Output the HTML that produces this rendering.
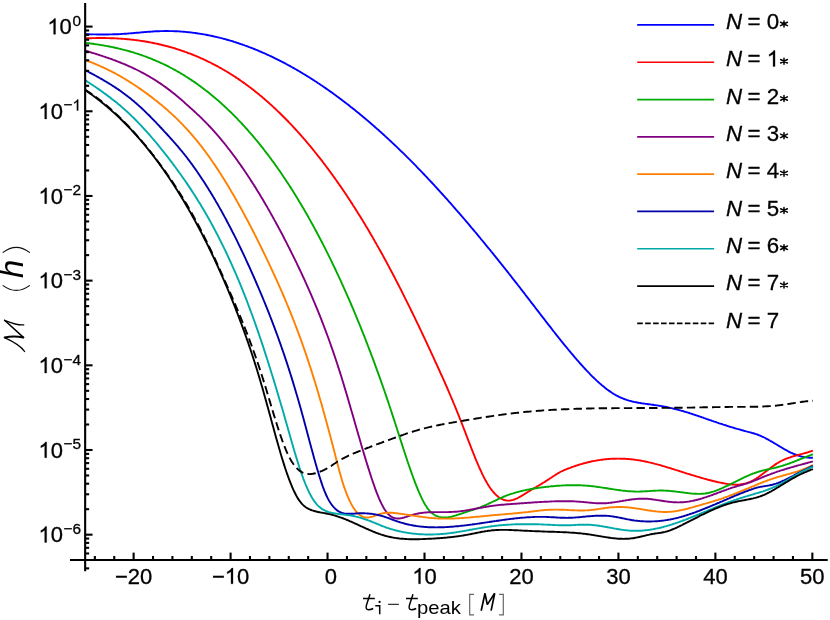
<!DOCTYPE html>
<html><head><meta charset="utf-8"><title>Mismatch vs start time</title>
<style>html,body{margin:0;padding:0;background:#fff;}body{width:830px;height:620px;overflow:hidden;font-family:"Liberation Sans",sans-serif;}svg{display:block;will-change:transform;}</style>
</head><body>
<svg width="830" height="620" viewBox="0 0 830 620">
<rect width="830" height="620" fill="#fff"/>
<g fill="none" stroke-linejoin="round" stroke-linecap="butt">
<path d="M85.2,34.3 L86.2,34.3 L87.2,34.3 L88.2,34.3 L89.2,34.3 L90.2,34.4 L91.2,34.4 L92.2,34.4 L93.2,34.4 L94.2,34.4 L95.2,34.4 L96.2,34.4 L97.2,34.5 L98.2,34.5 L99.2,34.5 L100.2,34.5 L101.2,34.5 L102.2,34.5 L103.2,34.5 L104.2,34.5 L105.2,34.5 L106.2,34.5 L107.2,34.5 L108.2,34.5 L109.2,34.4 L110.2,34.4 L111.2,34.4 L112.2,34.4 L113.2,34.3 L114.2,34.3 L115.2,34.3 L116.2,34.3 L117.2,34.2 L118.2,34.2 L119.2,34.1 L120.2,34.1 L121.2,34.0 L122.2,33.9 L123.2,33.9 L124.2,33.8 L125.2,33.7 L126.2,33.7 L127.2,33.6 L128.2,33.5 L129.2,33.4 L130.2,33.4 L131.2,33.3 L132.2,33.2 L133.2,33.1 L134.2,33.0 L135.2,32.9 L136.2,32.8 L137.2,32.7 L138.2,32.7 L139.2,32.6 L140.2,32.5 L141.2,32.4 L142.2,32.3 L143.2,32.2 L144.2,32.1 L145.2,32.0 L146.2,32.0 L147.2,31.9 L148.2,31.8 L149.2,31.7 L150.2,31.7 L151.2,31.6 L152.2,31.5 L153.2,31.5 L154.2,31.4 L155.2,31.3 L156.2,31.3 L157.2,31.2 L158.2,31.2 L159.2,31.2 L160.2,31.1 L161.2,31.1 L162.2,31.1 L163.2,31.1 L164.2,31.0 L165.2,31.0 L166.2,31.0 L167.2,31.0 L168.2,31.0 L169.2,31.1 L170.2,31.1 L171.2,31.1 L172.2,31.1 L173.2,31.1 L174.2,31.2 L175.2,31.2 L176.2,31.3 L177.2,31.3 L178.2,31.4 L179.2,31.4 L180.2,31.5 L181.2,31.6 L182.2,31.6 L183.2,31.7 L184.2,31.8 L185.2,31.9 L186.2,32.0 L187.2,32.1 L188.2,32.2 L189.2,32.3 L190.2,32.4 L191.2,32.5 L192.2,32.6 L193.2,32.8 L194.2,32.9 L195.2,33.0 L196.2,33.2 L197.2,33.3 L198.2,33.5 L199.2,33.6 L200.2,33.8 L201.2,33.9 L202.2,34.1 L203.2,34.3 L204.2,34.4 L205.2,34.6 L206.2,34.8 L207.2,35.0 L208.2,35.2 L209.2,35.4 L210.2,35.6 L211.2,35.8 L212.2,36.0 L213.2,36.2 L214.2,36.5 L215.2,36.7 L216.2,36.9 L217.2,37.2 L218.2,37.4 L219.2,37.6 L220.2,37.9 L221.2,38.1 L222.2,38.4 L223.2,38.7 L224.2,38.9 L225.2,39.2 L226.2,39.5 L227.2,39.8 L228.2,40.0 L229.2,40.3 L230.2,40.6 L231.2,40.9 L232.2,41.2 L233.2,41.5 L234.2,41.9 L235.2,42.2 L236.2,42.5 L237.2,42.8 L238.2,43.1 L239.2,43.5 L240.2,43.8 L241.2,44.2 L242.2,44.5 L243.2,44.9 L244.2,45.2 L245.2,45.6 L246.2,45.9 L247.2,46.3 L248.2,46.7 L249.2,47.1 L250.2,47.4 L251.2,47.8 L252.2,48.2 L253.2,48.6 L254.2,49.0 L255.2,49.4 L256.2,49.8 L257.2,50.2 L258.2,50.6 L259.2,51.1 L260.2,51.5 L261.2,51.9 L262.2,52.3 L263.2,52.8 L264.2,53.2 L265.2,53.7 L266.2,54.1 L267.2,54.6 L268.2,55.0 L269.2,55.5 L270.2,56.0 L271.2,56.4 L272.2,56.9 L273.2,57.4 L274.2,57.9 L275.2,58.3 L276.2,58.8 L277.2,59.3 L278.2,59.8 L279.2,60.3 L280.2,60.8 L281.2,61.4 L282.2,61.9 L283.2,62.4 L284.2,62.9 L285.2,63.4 L286.2,64.0 L287.2,64.5 L288.2,65.1 L289.2,65.6 L290.2,66.1 L291.2,66.7 L292.2,67.3 L293.2,67.8 L294.2,68.4 L295.2,69.0 L296.2,69.5 L297.2,70.1 L298.2,70.7 L299.2,71.3 L300.2,71.9 L301.2,72.5 L302.2,73.1 L303.2,73.7 L304.2,74.3 L305.2,74.9 L306.2,75.5 L307.2,76.1 L308.2,76.7 L309.2,77.3 L310.2,78.0 L311.2,78.6 L312.2,79.2 L313.2,79.9 L314.2,80.5 L315.2,81.2 L316.2,81.8 L317.2,82.5 L318.2,83.2 L319.2,83.8 L320.2,84.5 L321.2,85.2 L322.2,85.8 L323.2,86.5 L324.2,87.2 L325.2,87.9 L326.2,88.6 L327.2,89.3 L328.2,90.0 L329.2,90.7 L330.2,91.4 L331.2,92.1 L332.2,92.8 L333.2,93.5 L334.2,94.3 L335.2,95.0 L336.2,95.7 L337.2,96.5 L338.2,97.2 L339.2,97.9 L340.2,98.7 L341.2,99.4 L342.2,100.2 L343.2,101.0 L344.2,101.7 L345.2,102.5 L346.2,103.3 L347.2,104.0 L348.2,104.8 L349.2,105.6 L350.2,106.4 L351.2,107.2 L352.2,107.9 L353.2,108.7 L354.2,109.5 L355.2,110.3 L356.2,111.2 L357.2,112.0 L358.2,112.8 L359.2,113.6 L360.2,114.4 L361.2,115.2 L362.2,116.1 L363.2,116.9 L364.2,117.7 L365.2,118.6 L366.2,119.4 L367.2,120.3 L368.2,121.1 L369.2,122.0 L370.2,122.8 L371.2,123.7 L372.2,124.6 L373.2,125.4 L374.2,126.3 L375.2,127.2 L376.2,128.1 L377.2,129.0 L378.2,129.8 L379.2,130.7 L380.2,131.6 L381.2,132.5 L382.2,133.4 L383.2,134.3 L384.2,135.2 L385.2,136.2 L386.2,137.1 L387.2,138.0 L388.2,138.9 L389.2,139.9 L390.2,140.8 L391.2,141.7 L392.2,142.7 L393.2,143.6 L394.2,144.5 L395.2,145.5 L396.2,146.4 L397.2,147.4 L398.2,148.4 L399.2,149.3 L400.2,150.3 L401.2,151.3 L402.2,152.2 L403.2,153.2 L404.2,154.2 L405.2,155.2 L406.2,156.2 L407.2,157.2 L408.2,158.1 L409.2,159.1 L410.2,160.1 L411.2,161.2 L412.2,162.2 L413.2,163.2 L414.2,164.2 L415.2,165.2 L416.2,166.2 L417.2,167.3 L418.2,168.3 L419.2,169.3 L420.2,170.3 L421.2,171.4 L422.2,172.4 L423.2,173.5 L424.2,174.5 L425.2,175.6 L426.2,176.6 L427.2,177.7 L428.2,178.8 L429.2,179.8 L430.2,180.9 L431.2,182.0 L432.2,183.0 L433.2,184.1 L434.2,185.2 L435.2,186.3 L436.2,187.4 L437.2,188.5 L438.2,189.6 L439.2,190.7 L440.2,191.8 L441.2,192.9 L442.2,194.0 L443.2,195.1 L444.2,196.2 L445.2,197.3 L446.2,198.4 L447.2,199.5 L448.2,200.7 L449.2,201.8 L450.2,202.9 L451.2,204.0 L452.2,205.2 L453.2,206.3 L454.2,207.5 L455.2,208.6 L456.2,209.8 L457.2,210.9 L458.2,212.1 L459.2,213.2 L460.2,214.4 L461.2,215.5 L462.2,216.7 L463.2,217.8 L464.2,219.0 L465.2,220.2 L466.2,221.4 L467.2,222.5 L468.2,223.7 L469.2,224.9 L470.2,226.1 L471.2,227.3 L472.2,228.5 L473.2,229.6 L474.2,230.8 L475.2,232.0 L476.2,233.2 L477.2,234.4 L478.2,235.6 L479.2,236.8 L480.2,238.0 L481.2,239.3 L482.2,240.5 L483.2,241.7 L484.2,242.9 L485.2,244.1 L486.2,245.3 L487.2,246.6 L488.2,247.8 L489.2,249.0 L490.2,250.2 L491.2,251.5 L492.2,252.7 L493.2,253.9 L494.2,255.2 L495.2,256.4 L496.2,257.7 L497.2,258.9 L498.2,260.1 L499.2,261.4 L500.2,262.6 L501.2,263.9 L502.2,265.1 L503.2,266.4 L504.2,267.7 L505.2,268.9 L506.2,270.2 L507.2,271.4 L508.2,272.7 L509.2,274.0 L510.2,275.2 L511.2,276.5 L512.2,277.8 L513.2,279.1 L514.2,280.3 L515.2,281.6 L516.2,282.9 L517.2,284.2 L518.2,285.5 L519.2,286.7 L520.2,288.0 L521.2,289.3 L522.2,290.6 L523.2,291.9 L524.2,293.2 L525.2,294.5 L526.2,295.8 L527.2,297.1 L528.2,298.4 L529.2,299.7 L530.2,301.0 L531.2,302.3 L532.2,303.6 L533.2,304.9 L534.2,306.2 L535.2,307.5 L536.2,308.8 L537.2,310.1 L538.2,311.4 L539.2,312.7 L540.2,314.0 L541.2,315.3 L542.2,316.6 L543.2,317.9 L544.2,319.2 L545.2,320.5 L546.2,321.8 L547.2,323.1 L548.2,324.4 L549.2,325.6 L550.2,326.9 L551.2,328.2 L552.2,329.5 L553.2,330.8 L554.2,332.0 L555.2,333.3 L556.2,334.6 L557.2,335.8 L558.2,337.1 L559.2,338.4 L560.2,339.6 L561.2,340.9 L562.2,342.1 L563.2,343.3 L564.2,344.6 L565.2,345.8 L566.2,347.0 L567.2,348.2 L568.2,349.5 L569.2,350.7 L570.2,351.9 L571.2,353.1 L572.2,354.2 L573.2,355.4 L574.2,356.6 L575.2,357.8 L576.2,358.9 L577.2,360.1 L578.2,361.2 L579.2,362.4 L580.2,363.5 L581.2,364.6 L582.2,365.7 L583.2,366.8 L584.2,367.9 L585.2,369.0 L586.2,370.1 L587.2,371.1 L588.2,372.2 L589.2,373.2 L590.2,374.3 L591.2,375.3 L592.2,376.3 L593.2,377.3 L594.2,378.2 L595.2,379.2 L596.2,380.1 L597.2,381.1 L598.2,382.0 L599.2,382.9 L600.2,383.8 L601.2,384.6 L602.2,385.5 L603.2,386.3 L604.2,387.1 L605.2,387.9 L606.2,388.7 L607.2,389.5 L608.2,390.2 L609.2,390.9 L610.2,391.6 L611.2,392.3 L612.2,393.0 L613.2,393.6 L614.2,394.2 L615.2,394.8 L616.2,395.3 L617.2,395.9 L618.2,396.4 L619.2,396.9 L620.2,397.4 L621.2,397.8 L622.2,398.2 L623.2,398.6 L624.2,399.0 L625.2,399.4 L626.2,399.7 L627.2,400.1 L628.2,400.4 L629.2,400.7 L630.2,400.9 L631.2,401.2 L632.2,401.5 L633.2,401.7 L634.2,401.9 L635.2,402.1 L636.2,402.3 L637.2,402.5 L638.2,402.7 L639.2,402.9 L640.2,403.0 L641.2,403.2 L642.2,403.4 L643.2,403.5 L644.2,403.6 L645.2,403.8 L646.2,403.9 L647.2,404.0 L648.2,404.2 L649.2,404.3 L650.2,404.4 L651.2,404.6 L652.2,404.7 L653.2,404.8 L654.2,405.0 L655.2,405.1 L656.2,405.3 L657.2,405.4 L658.2,405.6 L659.2,405.7 L660.2,405.9 L661.2,406.1 L662.2,406.2 L663.2,406.4 L664.2,406.6 L665.2,406.8 L666.2,407.0 L667.2,407.2 L668.2,407.4 L669.2,407.7 L670.2,407.9 L671.2,408.1 L672.2,408.3 L673.2,408.6 L674.2,408.8 L675.2,409.1 L676.2,409.3 L677.2,409.6 L678.2,409.8 L679.2,410.1 L680.2,410.4 L681.2,410.7 L682.2,410.9 L683.2,411.2 L684.2,411.5 L685.2,411.8 L686.2,412.1 L687.2,412.4 L688.2,412.7 L689.2,413.0 L690.2,413.4 L691.2,413.7 L692.2,414.0 L693.2,414.3 L694.2,414.7 L695.2,415.0 L696.2,415.3 L697.2,415.7 L698.2,416.0 L699.2,416.3 L700.2,416.7 L701.2,417.0 L702.2,417.4 L703.2,417.7 L704.2,418.1 L705.2,418.4 L706.2,418.8 L707.2,419.1 L708.2,419.5 L709.2,419.8 L710.2,420.2 L711.2,420.5 L712.2,420.9 L713.2,421.2 L714.2,421.6 L715.2,421.9 L716.2,422.2 L717.2,422.6 L718.2,422.9 L719.2,423.3 L720.2,423.6 L721.2,423.9 L722.2,424.2 L723.2,424.6 L724.2,424.9 L725.2,425.2 L726.2,425.5 L727.2,425.8 L728.2,426.2 L729.2,426.5 L730.2,426.8 L731.2,427.1 L732.2,427.4 L733.2,427.7 L734.2,428.0 L735.2,428.3 L736.2,428.6 L737.2,428.9 L738.2,429.1 L739.2,429.4 L740.2,429.7 L741.2,430.0 L742.2,430.3 L743.2,430.5 L744.2,430.8 L745.2,431.1 L746.2,431.4 L747.2,431.6 L748.2,431.9 L749.2,432.1 L750.2,432.4 L751.2,432.7 L752.2,433.0 L753.2,433.2 L754.2,433.5 L755.2,433.9 L756.2,434.2 L757.2,434.5 L758.2,434.9 L759.2,435.3 L760.2,435.7 L761.2,436.1 L762.2,436.6 L763.2,437.0 L764.2,437.5 L765.2,438.0 L766.2,438.6 L767.2,439.1 L768.2,439.6 L769.2,440.2 L770.2,440.8 L771.2,441.3 L772.2,441.9 L773.2,442.5 L774.2,443.1 L775.2,443.7 L776.2,444.3 L777.2,444.9 L778.2,445.5 L779.2,446.1 L780.2,446.7 L781.2,447.3 L782.2,447.9 L783.2,448.5 L784.2,449.1 L785.2,449.6 L786.2,450.2 L787.2,450.7 L788.2,451.3 L789.2,451.8 L790.2,452.3 L791.2,452.8 L792.2,453.2 L793.2,453.7 L794.2,454.1 L795.2,454.5 L796.2,454.9 L797.2,455.3 L798.2,455.6 L799.2,455.9 L800.2,456.2 L801.2,456.5 L802.2,456.7 L803.2,456.9 L804.2,457.1 L805.2,457.3 L806.2,457.4 L807.2,457.5 L808.2,457.6 L809.2,457.7 L810.2,457.7 L811.2,457.8 L812.2,457.8 L812.9,457.8" stroke="#0000ff" stroke-width="1.9"/>
<path d="M85.2,38.4 L86.2,38.3 L87.2,38.3 L88.2,38.3 L89.2,38.2 L90.2,38.2 L91.2,38.2 L92.2,38.1 L93.2,38.1 L94.2,38.1 L95.2,38.1 L96.2,38.0 L97.2,38.0 L98.2,38.0 L99.2,38.0 L100.2,38.0 L101.2,38.0 L102.2,38.0 L103.2,38.0 L104.2,38.0 L105.2,38.0 L106.2,38.1 L107.2,38.1 L108.2,38.1 L109.2,38.1 L110.2,38.2 L111.2,38.2 L112.2,38.2 L113.2,38.3 L114.2,38.3 L115.2,38.4 L116.2,38.4 L117.2,38.5 L118.2,38.5 L119.2,38.6 L120.2,38.6 L121.2,38.7 L122.2,38.8 L123.2,38.9 L124.2,38.9 L125.2,39.0 L126.2,39.1 L127.2,39.2 L128.2,39.3 L129.2,39.4 L130.2,39.5 L131.2,39.6 L132.2,39.7 L133.2,39.8 L134.2,39.9 L135.2,40.1 L136.2,40.2 L137.2,40.3 L138.2,40.4 L139.2,40.6 L140.2,40.7 L141.2,40.9 L142.2,41.0 L143.2,41.2 L144.2,41.3 L145.2,41.5 L146.2,41.7 L147.2,41.8 L148.2,42.0 L149.2,42.2 L150.2,42.4 L151.2,42.6 L152.2,42.8 L153.2,43.0 L154.2,43.2 L155.2,43.4 L156.2,43.6 L157.2,43.8 L158.2,44.0 L159.2,44.3 L160.2,44.5 L161.2,44.7 L162.2,45.0 L163.2,45.2 L164.2,45.5 L165.2,45.7 L166.2,46.0 L167.2,46.2 L168.2,46.5 L169.2,46.8 L170.2,47.1 L171.2,47.3 L172.2,47.6 L173.2,47.9 L174.2,48.2 L175.2,48.5 L176.2,48.8 L177.2,49.2 L178.2,49.5 L179.2,49.8 L180.2,50.1 L181.2,50.5 L182.2,50.8 L183.2,51.1 L184.2,51.5 L185.2,51.9 L186.2,52.2 L187.2,52.6 L188.2,53.0 L189.2,53.3 L190.2,53.7 L191.2,54.1 L192.2,54.5 L193.2,54.9 L194.2,55.3 L195.2,55.7 L196.2,56.1 L197.2,56.5 L198.2,57.0 L199.2,57.4 L200.2,57.8 L201.2,58.3 L202.2,58.7 L203.2,59.2 L204.2,59.7 L205.2,60.1 L206.2,60.6 L207.2,61.1 L208.2,61.6 L209.2,62.0 L210.2,62.5 L211.2,63.0 L212.2,63.6 L213.2,64.1 L214.2,64.6 L215.2,65.1 L216.2,65.6 L217.2,66.2 L218.2,66.7 L219.2,67.3 L220.2,67.8 L221.2,68.4 L222.2,69.0 L223.2,69.5 L224.2,70.1 L225.2,70.7 L226.2,71.3 L227.2,71.9 L228.2,72.5 L229.2,73.1 L230.2,73.8 L231.2,74.4 L232.2,75.0 L233.2,75.6 L234.2,76.3 L235.2,76.9 L236.2,77.6 L237.2,78.3 L238.2,78.9 L239.2,79.6 L240.2,80.3 L241.2,81.0 L242.2,81.7 L243.2,82.4 L244.2,83.1 L245.2,83.8 L246.2,84.6 L247.2,85.3 L248.2,86.0 L249.2,86.8 L250.2,87.5 L251.2,88.3 L252.2,89.1 L253.2,89.8 L254.2,90.6 L255.2,91.4 L256.2,92.2 L257.2,93.0 L258.2,93.8 L259.2,94.6 L260.2,95.5 L261.2,96.3 L262.2,97.1 L263.2,98.0 L264.2,98.8 L265.2,99.7 L266.2,100.6 L267.2,101.4 L268.2,102.3 L269.2,103.2 L270.2,104.1 L271.2,105.0 L272.2,105.9 L273.2,106.9 L274.2,107.8 L275.2,108.7 L276.2,109.7 L277.2,110.6 L278.2,111.6 L279.2,112.5 L280.2,113.5 L281.2,114.5 L282.2,115.5 L283.2,116.5 L284.2,117.5 L285.2,118.5 L286.2,119.5 L287.2,120.5 L288.2,121.5 L289.2,122.6 L290.2,123.6 L291.2,124.7 L292.2,125.7 L293.2,126.8 L294.2,127.9 L295.2,129.0 L296.2,130.1 L297.2,131.2 L298.2,132.3 L299.2,133.4 L300.2,134.5 L301.2,135.6 L302.2,136.8 L303.2,137.9 L304.2,139.1 L305.2,140.2 L306.2,141.4 L307.2,142.6 L308.2,143.8 L309.2,145.0 L310.2,146.2 L311.2,147.4 L312.2,148.6 L313.2,149.8 L314.2,151.0 L315.2,152.3 L316.2,153.5 L317.2,154.8 L318.2,156.1 L319.2,157.3 L320.2,158.6 L321.2,159.9 L322.2,161.2 L323.2,162.5 L324.2,163.8 L325.2,165.1 L326.2,166.5 L327.2,167.8 L328.2,169.1 L329.2,170.5 L330.2,171.9 L331.2,173.2 L332.2,174.6 L333.2,176.0 L334.2,177.4 L335.2,178.8 L336.2,180.2 L337.2,181.6 L338.2,183.1 L339.2,184.5 L340.2,185.9 L341.2,187.4 L342.2,188.8 L343.2,190.3 L344.2,191.8 L345.2,193.3 L346.2,194.8 L347.2,196.3 L348.2,197.8 L349.2,199.3 L350.2,200.8 L351.2,202.4 L352.2,203.9 L353.2,205.5 L354.2,207.0 L355.2,208.6 L356.2,210.2 L357.2,211.8 L358.2,213.4 L359.2,215.0 L360.2,216.6 L361.2,218.2 L362.2,219.8 L363.2,221.5 L364.2,223.1 L365.2,224.8 L366.2,226.5 L367.2,228.1 L368.2,229.8 L369.2,231.5 L370.2,233.2 L371.2,234.9 L372.2,236.6 L373.2,238.4 L374.2,240.1 L375.2,241.9 L376.2,243.6 L377.2,245.4 L378.2,247.1 L379.2,248.9 L380.2,250.7 L381.2,252.5 L382.2,254.3 L383.2,256.1 L384.2,258.0 L385.2,259.8 L386.2,261.6 L387.2,263.5 L388.2,265.4 L389.2,267.2 L390.2,269.1 L391.2,271.0 L392.2,272.9 L393.2,274.8 L394.2,276.7 L395.2,278.6 L396.2,280.6 L397.2,282.5 L398.2,284.5 L399.2,286.4 L400.2,288.4 L401.2,290.3 L402.2,292.3 L403.2,294.3 L404.2,296.3 L405.2,298.3 L406.2,300.3 L407.2,302.3 L408.2,304.4 L409.2,306.4 L410.2,308.4 L411.2,310.5 L412.2,312.5 L413.2,314.6 L414.2,316.6 L415.2,318.7 L416.2,320.8 L417.2,322.9 L418.2,324.9 L419.2,327.0 L420.2,329.1 L421.2,331.2 L422.2,333.4 L423.2,335.5 L424.2,337.6 L425.2,339.7 L426.2,341.9 L427.2,344.0 L428.2,346.1 L429.2,348.3 L430.2,350.4 L431.2,352.6 L432.2,354.8 L433.2,356.9 L434.2,359.1 L435.2,361.3 L436.2,363.5 L437.2,365.6 L438.2,367.8 L439.2,370.0 L440.2,372.3 L441.2,374.5 L442.2,376.7 L443.2,378.9 L444.2,381.2 L445.2,383.5 L446.2,385.7 L447.2,388.0 L448.2,390.3 L449.2,392.6 L450.2,395.0 L451.2,397.3 L452.2,399.7 L453.2,402.1 L454.2,404.5 L455.2,406.9 L456.2,409.3 L457.2,411.8 L458.2,414.3 L459.2,416.8 L460.2,419.3 L461.2,421.9 L462.2,424.4 L463.2,427.0 L464.2,429.6 L465.2,432.2 L466.2,434.8 L467.2,437.4 L468.2,440.1 L469.2,442.7 L470.2,445.2 L471.2,447.8 L472.2,450.4 L473.2,452.9 L474.2,455.4 L475.2,457.8 L476.2,460.3 L477.2,462.6 L478.2,465.0 L479.2,467.3 L480.2,469.5 L481.2,471.7 L482.2,473.8 L483.2,475.8 L484.2,477.8 L485.2,479.7 L486.2,481.5 L487.2,483.3 L488.2,484.9 L489.2,486.5 L490.2,488.0 L491.2,489.4 L492.2,490.7 L493.2,491.9 L494.2,493.0 L495.2,494.1 L496.2,495.1 L497.2,495.9 L498.2,496.8 L499.2,497.5 L500.2,498.1 L501.2,498.7 L502.2,499.2 L503.2,499.6 L504.2,500.0 L505.2,500.2 L506.2,500.4 L507.2,500.6 L508.2,500.6 L509.2,500.6 L510.2,500.5 L511.2,500.4 L512.2,500.1 L513.2,499.9 L514.2,499.5 L515.2,499.2 L516.2,498.7 L517.2,498.3 L518.2,497.8 L519.2,497.2 L520.2,496.7 L521.2,496.1 L522.2,495.5 L523.2,494.9 L524.2,494.3 L525.2,493.6 L526.2,493.0 L527.2,492.4 L528.2,491.7 L529.2,491.1 L530.2,490.5 L531.2,489.9 L532.2,489.3 L533.2,488.7 L534.2,488.1 L535.2,487.5 L536.2,487.0 L537.2,486.4 L538.2,485.8 L539.2,485.2 L540.2,484.6 L541.2,484.0 L542.2,483.4 L543.2,482.8 L544.2,482.2 L545.2,481.6 L546.2,480.9 L547.2,480.3 L548.2,479.6 L549.2,479.0 L550.2,478.3 L551.2,477.7 L552.2,477.0 L553.2,476.3 L554.2,475.7 L555.2,475.0 L556.2,474.4 L557.2,473.7 L558.2,473.1 L559.2,472.6 L560.2,472.0 L561.2,471.5 L562.2,471.0 L563.2,470.6 L564.2,470.1 L565.2,469.7 L566.2,469.3 L567.2,468.9 L568.2,468.5 L569.2,468.1 L570.2,467.8 L571.2,467.4 L572.2,467.0 L573.2,466.7 L574.2,466.3 L575.2,466.0 L576.2,465.6 L577.2,465.3 L578.2,465.0 L579.2,464.7 L580.2,464.4 L581.2,464.1 L582.2,463.8 L583.2,463.5 L584.2,463.2 L585.2,463.0 L586.2,462.7 L587.2,462.5 L588.2,462.2 L589.2,462.0 L590.2,461.8 L591.2,461.5 L592.2,461.3 L593.2,461.1 L594.2,460.9 L595.2,460.8 L596.2,460.6 L597.2,460.4 L598.2,460.2 L599.2,460.1 L600.2,459.9 L601.2,459.8 L602.2,459.7 L603.2,459.5 L604.2,459.4 L605.2,459.3 L606.2,459.2 L607.2,459.1 L608.2,459.0 L609.2,459.0 L610.2,458.9 L611.2,458.8 L612.2,458.8 L613.2,458.7 L614.2,458.7 L615.2,458.7 L616.2,458.7 L617.2,458.6 L618.2,458.6 L619.2,458.6 L620.2,458.7 L621.2,458.7 L622.2,458.7 L623.2,458.7 L624.2,458.8 L625.2,458.8 L626.2,458.9 L627.2,459.0 L628.2,459.0 L629.2,459.1 L630.2,459.2 L631.2,459.3 L632.2,459.4 L633.2,459.5 L634.2,459.6 L635.2,459.8 L636.2,459.9 L637.2,460.1 L638.2,460.2 L639.2,460.4 L640.2,460.5 L641.2,460.7 L642.2,460.9 L643.2,461.1 L644.2,461.3 L645.2,461.5 L646.2,461.7 L647.2,461.9 L648.2,462.1 L649.2,462.4 L650.2,462.6 L651.2,462.8 L652.2,463.1 L653.2,463.3 L654.2,463.6 L655.2,463.9 L656.2,464.1 L657.2,464.4 L658.2,464.7 L659.2,464.9 L660.2,465.2 L661.2,465.5 L662.2,465.8 L663.2,466.1 L664.2,466.4 L665.2,466.7 L666.2,467.0 L667.2,467.3 L668.2,467.6 L669.2,467.9 L670.2,468.2 L671.2,468.5 L672.2,468.8 L673.2,469.1 L674.2,469.4 L675.2,469.8 L676.2,470.1 L677.2,470.4 L678.2,470.7 L679.2,471.0 L680.2,471.3 L681.2,471.7 L682.2,472.0 L683.2,472.3 L684.2,472.6 L685.2,472.9 L686.2,473.3 L687.2,473.6 L688.2,473.9 L689.2,474.2 L690.2,474.5 L691.2,474.8 L692.2,475.1 L693.2,475.4 L694.2,475.7 L695.2,476.0 L696.2,476.3 L697.2,476.6 L698.2,476.9 L699.2,477.2 L700.2,477.5 L701.2,477.8 L702.2,478.1 L703.2,478.4 L704.2,478.7 L705.2,478.9 L706.2,479.2 L707.2,479.5 L708.2,479.8 L709.2,480.0 L710.2,480.3 L711.2,480.5 L712.2,480.8 L713.2,481.0 L714.2,481.3 L715.2,481.5 L716.2,481.7 L717.2,482.0 L718.2,482.2 L719.2,482.4 L720.2,482.6 L721.2,482.8 L722.2,483.0 L723.2,483.2 L724.2,483.4 L725.2,483.6 L726.2,483.7 L727.2,483.9 L728.2,484.1 L729.2,484.2 L730.2,484.3 L731.2,484.4 L732.2,484.5 L733.2,484.6 L734.2,484.6 L735.2,484.7 L736.2,484.7 L737.2,484.7 L738.2,484.6 L739.2,484.6 L740.2,484.5 L741.2,484.3 L742.2,484.2 L743.2,484.0 L744.2,483.8 L745.2,483.6 L746.2,483.3 L747.2,483.0 L748.2,482.6 L749.2,482.2 L750.2,481.8 L751.2,481.3 L752.2,480.8 L753.2,480.3 L754.2,479.7 L755.2,479.1 L756.2,478.5 L757.2,477.8 L758.2,477.2 L759.2,476.5 L760.2,475.7 L761.2,475.0 L762.2,474.3 L763.2,473.5 L764.2,472.8 L765.2,472.0 L766.2,471.2 L767.2,470.5 L768.2,469.7 L769.2,468.9 L770.2,468.2 L771.2,467.4 L772.2,466.7 L773.2,466.0 L774.2,465.3 L775.2,464.6 L776.2,463.9 L777.2,463.3 L778.2,462.7 L779.2,462.1 L780.2,461.5 L781.2,461.0 L782.2,460.5 L783.2,460.0 L784.2,459.6 L785.2,459.1 L786.2,458.7 L787.2,458.3 L788.2,458.0 L789.2,457.6 L790.2,457.3 L791.2,456.9 L792.2,456.6 L793.2,456.3 L794.2,456.0 L795.2,455.7 L796.2,455.5 L797.2,455.2 L798.2,454.9 L799.2,454.7 L800.2,454.4 L801.2,454.1 L802.2,453.9 L803.2,453.6 L804.2,453.3 L805.2,453.0 L806.2,452.8 L807.2,452.5 L808.2,452.2 L809.2,451.8 L810.2,451.5 L811.2,451.2 L812.2,450.8 L812.9,450.6" stroke="#ff0000" stroke-width="1.9"/>
<path d="M85.2,42.8 L86.2,42.9 L87.2,43.1 L88.2,43.2 L89.2,43.3 L90.2,43.4 L91.2,43.6 L92.2,43.7 L93.2,43.8 L94.2,44.0 L95.2,44.1 L96.2,44.3 L97.2,44.4 L98.2,44.6 L99.2,44.7 L100.2,44.9 L101.2,45.1 L102.2,45.2 L103.2,45.4 L104.2,45.6 L105.2,45.8 L106.2,45.9 L107.2,46.1 L108.2,46.3 L109.2,46.5 L110.2,46.7 L111.2,46.9 L112.2,47.1 L113.2,47.3 L114.2,47.5 L115.2,47.8 L116.2,48.0 L117.2,48.2 L118.2,48.4 L119.2,48.7 L120.2,48.9 L121.2,49.2 L122.2,49.4 L123.2,49.7 L124.2,49.9 L125.2,50.2 L126.2,50.4 L127.2,50.7 L128.2,51.0 L129.2,51.3 L130.2,51.5 L131.2,51.8 L132.2,52.1 L133.2,52.4 L134.2,52.7 L135.2,53.1 L136.2,53.4 L137.2,53.7 L138.2,54.0 L139.2,54.3 L140.2,54.7 L141.2,55.0 L142.2,55.4 L143.2,55.7 L144.2,56.1 L145.2,56.4 L146.2,56.8 L147.2,57.2 L148.2,57.6 L149.2,58.0 L150.2,58.3 L151.2,58.7 L152.2,59.1 L153.2,59.6 L154.2,60.0 L155.2,60.4 L156.2,60.8 L157.2,61.3 L158.2,61.7 L159.2,62.1 L160.2,62.6 L161.2,63.0 L162.2,63.5 L163.2,64.0 L164.2,64.5 L165.2,64.9 L166.2,65.4 L167.2,65.9 L168.2,66.4 L169.2,66.9 L170.2,67.5 L171.2,68.0 L172.2,68.5 L173.2,69.1 L174.2,69.6 L175.2,70.1 L176.2,70.7 L177.2,71.3 L178.2,71.8 L179.2,72.4 L180.2,73.0 L181.2,73.6 L182.2,74.2 L183.2,74.8 L184.2,75.4 L185.2,76.0 L186.2,76.7 L187.2,77.3 L188.2,77.9 L189.2,78.6 L190.2,79.2 L191.2,79.9 L192.2,80.6 L193.2,81.3 L194.2,81.9 L195.2,82.6 L196.2,83.3 L197.2,84.0 L198.2,84.7 L199.2,85.5 L200.2,86.2 L201.2,86.9 L202.2,87.7 L203.2,88.4 L204.2,89.2 L205.2,90.0 L206.2,90.7 L207.2,91.5 L208.2,92.3 L209.2,93.1 L210.2,93.9 L211.2,94.7 L212.2,95.6 L213.2,96.4 L214.2,97.2 L215.2,98.1 L216.2,98.9 L217.2,99.8 L218.2,100.6 L219.2,101.5 L220.2,102.4 L221.2,103.3 L222.2,104.2 L223.2,105.1 L224.2,106.0 L225.2,107.0 L226.2,107.9 L227.2,108.8 L228.2,109.8 L229.2,110.8 L230.2,111.7 L231.2,112.7 L232.2,113.7 L233.2,114.7 L234.2,115.7 L235.2,116.7 L236.2,117.7 L237.2,118.7 L238.2,119.8 L239.2,120.8 L240.2,121.9 L241.2,122.9 L242.2,124.0 L243.2,125.1 L244.2,126.2 L245.2,127.3 L246.2,128.4 L247.2,129.5 L248.2,130.6 L249.2,131.8 L250.2,132.9 L251.2,134.1 L252.2,135.2 L253.2,136.4 L254.2,137.6 L255.2,138.8 L256.2,140.0 L257.2,141.2 L258.2,142.4 L259.2,143.7 L260.2,144.9 L261.2,146.1 L262.2,147.4 L263.2,148.7 L264.2,150.0 L265.2,151.3 L266.2,152.6 L267.2,153.9 L268.2,155.2 L269.2,156.5 L270.2,157.9 L271.2,159.2 L272.2,160.6 L273.2,161.9 L274.2,163.3 L275.2,164.7 L276.2,166.1 L277.2,167.5 L278.2,169.0 L279.2,170.4 L280.2,171.8 L281.2,173.3 L282.2,174.8 L283.2,176.2 L284.2,177.7 L285.2,179.2 L286.2,180.7 L287.2,182.3 L288.2,183.8 L289.2,185.3 L290.2,186.9 L291.2,188.4 L292.2,190.0 L293.2,191.6 L294.2,193.2 L295.2,194.8 L296.2,196.4 L297.2,198.1 L298.2,199.7 L299.2,201.4 L300.2,203.0 L301.2,204.7 L302.2,206.4 L303.2,208.1 L304.2,209.8 L305.2,211.6 L306.2,213.3 L307.2,215.0 L308.2,216.8 L309.2,218.6 L310.2,220.4 L311.2,222.2 L312.2,224.0 L313.2,225.8 L314.2,227.6 L315.2,229.5 L316.2,231.3 L317.2,233.2 L318.2,235.1 L319.2,237.0 L320.2,238.9 L321.2,240.8 L322.2,242.7 L323.2,244.7 L324.2,246.7 L325.2,248.6 L326.2,250.6 L327.2,252.6 L328.2,254.6 L329.2,256.6 L330.2,258.7 L331.2,260.7 L332.2,262.8 L333.2,264.9 L334.2,266.9 L335.2,269.0 L336.2,271.2 L337.2,273.3 L338.2,275.4 L339.2,277.6 L340.2,279.7 L341.2,281.9 L342.2,284.1 L343.2,286.3 L344.2,288.6 L345.2,290.8 L346.2,293.1 L347.2,295.3 L348.2,297.6 L349.2,299.9 L350.2,302.2 L351.2,304.5 L352.2,306.9 L353.2,309.2 L354.2,311.6 L355.2,314.0 L356.2,316.4 L357.2,318.8 L358.2,321.3 L359.2,323.7 L360.2,326.2 L361.2,328.7 L362.2,331.2 L363.2,333.7 L364.2,336.2 L365.2,338.7 L366.2,341.3 L367.2,343.9 L368.2,346.5 L369.2,349.1 L370.2,351.7 L371.2,354.4 L372.2,357.0 L373.2,359.7 L374.2,362.4 L375.2,365.1 L376.2,367.8 L377.2,370.6 L378.2,373.4 L379.2,376.1 L380.2,378.9 L381.2,381.8 L382.2,384.6 L383.2,387.5 L384.2,390.3 L385.2,393.2 L386.2,396.1 L387.2,399.1 L388.2,402.0 L389.2,405.0 L390.2,408.0 L391.2,411.0 L392.2,414.1 L393.2,417.1 L394.2,420.2 L395.2,423.3 L396.2,426.4 L397.2,429.5 L398.2,432.6 L399.2,435.7 L400.2,438.9 L401.2,442.0 L402.2,445.1 L403.2,448.2 L404.2,451.2 L405.2,454.3 L406.2,457.3 L407.2,460.3 L408.2,463.3 L409.2,466.2 L410.2,469.1 L411.2,471.9 L412.2,474.7 L413.2,477.5 L414.2,480.2 L415.2,482.8 L416.2,485.4 L417.2,487.9 L418.2,490.3 L419.2,492.7 L420.2,494.9 L421.2,497.1 L422.2,499.2 L423.2,501.1 L424.2,503.0 L425.2,504.7 L426.2,506.3 L427.2,507.8 L428.2,509.1 L429.2,510.3 L430.2,511.4 L431.2,512.4 L432.2,513.3 L433.2,514.0 L434.2,514.7 L435.2,515.3 L436.2,515.8 L437.2,516.2 L438.2,516.6 L439.2,516.9 L440.2,517.1 L441.2,517.3 L442.2,517.4 L443.2,517.5 L444.2,517.5 L445.2,517.5 L446.2,517.5 L447.2,517.4 L448.2,517.3 L449.2,517.1 L450.2,516.9 L451.2,516.7 L452.2,516.5 L453.2,516.2 L454.2,515.9 L455.2,515.6 L456.2,515.3 L457.2,515.0 L458.2,514.7 L459.2,514.3 L460.2,514.0 L461.2,513.7 L462.2,513.3 L463.2,513.0 L464.2,512.7 L465.2,512.4 L466.2,512.0 L467.2,511.7 L468.2,511.4 L469.2,511.1 L470.2,510.7 L471.2,510.4 L472.2,510.1 L473.2,509.8 L474.2,509.4 L475.2,509.1 L476.2,508.7 L477.2,508.4 L478.2,508.0 L479.2,507.6 L480.2,507.3 L481.2,506.9 L482.2,506.5 L483.2,506.1 L484.2,505.7 L485.2,505.2 L486.2,504.8 L487.2,504.3 L488.2,503.9 L489.2,503.4 L490.2,503.0 L491.2,502.5 L492.2,502.0 L493.2,501.5 L494.2,501.0 L495.2,500.6 L496.2,500.1 L497.2,499.6 L498.2,499.1 L499.2,498.7 L500.2,498.2 L501.2,497.8 L502.2,497.3 L503.2,496.9 L504.2,496.5 L505.2,496.1 L506.2,495.7 L507.2,495.3 L508.2,494.9 L509.2,494.6 L510.2,494.2 L511.2,493.9 L512.2,493.6 L513.2,493.3 L514.2,492.9 L515.2,492.7 L516.2,492.4 L517.2,492.1 L518.2,491.8 L519.2,491.6 L520.2,491.3 L521.2,491.1 L522.2,490.8 L523.2,490.6 L524.2,490.4 L525.2,490.2 L526.2,489.9 L527.2,489.7 L528.2,489.6 L529.2,489.4 L530.2,489.2 L531.2,489.0 L532.2,488.8 L533.2,488.7 L534.2,488.5 L535.2,488.3 L536.2,488.2 L537.2,488.1 L538.2,487.9 L539.2,487.8 L540.2,487.6 L541.2,487.5 L542.2,487.4 L543.2,487.2 L544.2,487.1 L545.2,487.0 L546.2,486.9 L547.2,486.8 L548.2,486.7 L549.2,486.6 L550.2,486.4 L551.2,486.3 L552.2,486.3 L553.2,486.2 L554.2,486.1 L555.2,486.0 L556.2,485.9 L557.2,485.8 L558.2,485.8 L559.2,485.7 L560.2,485.6 L561.2,485.6 L562.2,485.5 L563.2,485.4 L564.2,485.4 L565.2,485.4 L566.2,485.3 L567.2,485.3 L568.2,485.3 L569.2,485.2 L570.2,485.2 L571.2,485.2 L572.2,485.2 L573.2,485.2 L574.2,485.2 L575.2,485.2 L576.2,485.2 L577.2,485.2 L578.2,485.2 L579.2,485.3 L580.2,485.3 L581.2,485.4 L582.2,485.4 L583.2,485.5 L584.2,485.5 L585.2,485.6 L586.2,485.6 L587.2,485.7 L588.2,485.8 L589.2,485.9 L590.2,486.0 L591.2,486.1 L592.2,486.2 L593.2,486.3 L594.2,486.4 L595.2,486.6 L596.2,486.7 L597.2,486.8 L598.2,487.0 L599.2,487.1 L600.2,487.3 L601.2,487.4 L602.2,487.6 L603.2,487.7 L604.2,487.9 L605.2,488.0 L606.2,488.2 L607.2,488.3 L608.2,488.5 L609.2,488.7 L610.2,488.8 L611.2,489.0 L612.2,489.1 L613.2,489.3 L614.2,489.4 L615.2,489.6 L616.2,489.7 L617.2,489.9 L618.2,490.0 L619.2,490.2 L620.2,490.3 L621.2,490.4 L622.2,490.6 L623.2,490.7 L624.2,490.8 L625.2,490.9 L626.2,491.0 L627.2,491.1 L628.2,491.2 L629.2,491.3 L630.2,491.3 L631.2,491.4 L632.2,491.4 L633.2,491.5 L634.2,491.5 L635.2,491.6 L636.2,491.6 L637.2,491.6 L638.2,491.6 L639.2,491.6 L640.2,491.5 L641.2,491.5 L642.2,491.5 L643.2,491.4 L644.2,491.4 L645.2,491.3 L646.2,491.3 L647.2,491.2 L648.2,491.1 L649.2,491.1 L650.2,491.0 L651.2,490.9 L652.2,490.9 L653.2,490.8 L654.2,490.7 L655.2,490.7 L656.2,490.6 L657.2,490.6 L658.2,490.6 L659.2,490.5 L660.2,490.5 L661.2,490.5 L662.2,490.5 L663.2,490.5 L664.2,490.6 L665.2,490.6 L666.2,490.7 L667.2,490.7 L668.2,490.8 L669.2,490.9 L670.2,491.0 L671.2,491.1 L672.2,491.2 L673.2,491.3 L674.2,491.4 L675.2,491.5 L676.2,491.6 L677.2,491.7 L678.2,491.9 L679.2,492.0 L680.2,492.1 L681.2,492.2 L682.2,492.4 L683.2,492.5 L684.2,492.6 L685.2,492.8 L686.2,492.9 L687.2,493.0 L688.2,493.1 L689.2,493.3 L690.2,493.4 L691.2,493.5 L692.2,493.6 L693.2,493.6 L694.2,493.7 L695.2,493.8 L696.2,493.8 L697.2,493.9 L698.2,493.9 L699.2,493.9 L700.2,493.9 L701.2,493.8 L702.2,493.8 L703.2,493.7 L704.2,493.6 L705.2,493.5 L706.2,493.3 L707.2,493.2 L708.2,493.0 L709.2,492.7 L710.2,492.5 L711.2,492.2 L712.2,491.9 L713.2,491.6 L714.2,491.3 L715.2,490.9 L716.2,490.6 L717.2,490.2 L718.2,489.8 L719.2,489.4 L720.2,489.0 L721.2,488.5 L722.2,488.1 L723.2,487.6 L724.2,487.2 L725.2,486.7 L726.2,486.2 L727.2,485.8 L728.2,485.3 L729.2,484.8 L730.2,484.3 L731.2,483.8 L732.2,483.3 L733.2,482.8 L734.2,482.3 L735.2,481.8 L736.2,481.3 L737.2,480.8 L738.2,480.3 L739.2,479.8 L740.2,479.3 L741.2,478.8 L742.2,478.3 L743.2,477.9 L744.2,477.4 L745.2,476.9 L746.2,476.5 L747.2,476.0 L748.2,475.6 L749.2,475.1 L750.2,474.7 L751.2,474.3 L752.2,473.9 L753.2,473.5 L754.2,473.2 L755.2,472.8 L756.2,472.5 L757.2,472.1 L758.2,471.8 L759.2,471.5 L760.2,471.2 L761.2,471.0 L762.2,470.7 L763.2,470.4 L764.2,470.2 L765.2,470.0 L766.2,469.7 L767.2,469.5 L768.2,469.3 L769.2,469.1 L770.2,468.9 L771.2,468.6 L772.2,468.4 L773.2,468.2 L774.2,468.0 L775.2,467.7 L776.2,467.5 L777.2,467.2 L778.2,467.0 L779.2,466.7 L780.2,466.4 L781.2,466.1 L782.2,465.8 L783.2,465.5 L784.2,465.2 L785.2,464.9 L786.2,464.5 L787.2,464.2 L788.2,463.8 L789.2,463.5 L790.2,463.1 L791.2,462.7 L792.2,462.4 L793.2,462.0 L794.2,461.6 L795.2,461.2 L796.2,460.8 L797.2,460.4 L798.2,460.0 L799.2,459.6 L800.2,459.2 L801.2,458.8 L802.2,458.4 L803.2,458.0 L804.2,457.6 L805.2,457.2 L806.2,456.8 L807.2,456.5 L808.2,456.1 L809.2,455.7 L810.2,455.3 L811.2,454.9 L812.2,454.5 L812.9,454.3" stroke="#00aa00" stroke-width="1.9"/>
<path d="M85.2,50.6 L86.2,50.9 L87.2,51.2 L88.2,51.5 L89.2,51.8 L90.2,52.1 L91.2,52.5 L92.2,52.8 L93.2,53.1 L94.2,53.4 L95.2,53.7 L96.2,54.0 L97.2,54.3 L98.2,54.6 L99.2,55.0 L100.2,55.3 L101.2,55.6 L102.2,55.9 L103.2,56.3 L104.2,56.6 L105.2,56.9 L106.2,57.3 L107.2,57.6 L108.2,58.0 L109.2,58.3 L110.2,58.7 L111.2,59.0 L112.2,59.4 L113.2,59.8 L114.2,60.1 L115.2,60.5 L116.2,60.9 L117.2,61.3 L118.2,61.7 L119.2,62.1 L120.2,62.5 L121.2,62.9 L122.2,63.3 L123.2,63.7 L124.2,64.1 L125.2,64.5 L126.2,64.9 L127.2,65.4 L128.2,65.8 L129.2,66.3 L130.2,66.7 L131.2,67.2 L132.2,67.6 L133.2,68.1 L134.2,68.6 L135.2,69.0 L136.2,69.5 L137.2,70.0 L138.2,70.5 L139.2,71.0 L140.2,71.5 L141.2,72.1 L142.2,72.6 L143.2,73.1 L144.2,73.7 L145.2,74.2 L146.2,74.8 L147.2,75.3 L148.2,75.9 L149.2,76.5 L150.2,77.1 L151.2,77.7 L152.2,78.3 L153.2,78.9 L154.2,79.5 L155.2,80.1 L156.2,80.8 L157.2,81.4 L158.2,82.1 L159.2,82.7 L160.2,83.4 L161.2,84.1 L162.2,84.8 L163.2,85.5 L164.2,86.2 L165.2,86.9 L166.2,87.6 L167.2,88.4 L168.2,89.1 L169.2,89.9 L170.2,90.6 L171.2,91.4 L172.2,92.2 L173.2,93.0 L174.2,93.8 L175.2,94.6 L176.2,95.4 L177.2,96.2 L178.2,97.1 L179.2,97.9 L180.2,98.8 L181.2,99.6 L182.2,100.5 L183.2,101.4 L184.2,102.3 L185.2,103.2 L186.2,104.1 L187.2,105.0 L188.2,105.9 L189.2,106.8 L190.2,107.7 L191.2,108.6 L192.2,109.5 L193.2,110.4 L194.2,111.3 L195.2,112.2 L196.2,113.1 L197.2,114.1 L198.2,115.0 L199.2,115.9 L200.2,116.9 L201.2,117.8 L202.2,118.8 L203.2,119.8 L204.2,120.8 L205.2,121.8 L206.2,122.8 L207.2,123.9 L208.2,124.9 L209.2,126.0 L210.2,127.0 L211.2,128.1 L212.2,129.2 L213.2,130.3 L214.2,131.4 L215.2,132.6 L216.2,133.7 L217.2,134.8 L218.2,136.0 L219.2,137.2 L220.2,138.4 L221.2,139.6 L222.2,140.8 L223.2,142.0 L224.2,143.2 L225.2,144.5 L226.2,145.7 L227.2,147.0 L228.2,148.3 L229.2,149.5 L230.2,150.8 L231.2,152.2 L232.2,153.5 L233.2,154.8 L234.2,156.2 L235.2,157.5 L236.2,158.9 L237.2,160.3 L238.2,161.7 L239.2,163.1 L240.2,164.5 L241.2,165.9 L242.2,167.4 L243.2,168.8 L244.2,170.3 L245.2,171.8 L246.2,173.2 L247.2,174.7 L248.2,176.3 L249.2,177.8 L250.2,179.3 L251.2,180.9 L252.2,182.4 L253.2,184.0 L254.2,185.6 L255.2,187.1 L256.2,188.7 L257.2,190.4 L258.2,192.0 L259.2,193.6 L260.2,195.3 L261.2,196.9 L262.2,198.6 L263.2,200.3 L264.2,202.0 L265.2,203.7 L266.2,205.4 L267.2,207.1 L268.2,208.9 L269.2,210.6 L270.2,212.4 L271.2,214.2 L272.2,215.9 L273.2,217.7 L274.2,219.6 L275.2,221.4 L276.2,223.2 L277.2,225.0 L278.2,226.9 L279.2,228.8 L280.2,230.6 L281.2,232.5 L282.2,234.4 L283.2,236.3 L284.2,238.3 L285.2,240.2 L286.2,242.2 L287.2,244.1 L288.2,246.1 L289.2,248.1 L290.2,250.0 L291.2,252.1 L292.2,254.1 L293.2,256.1 L294.2,258.1 L295.2,260.2 L296.2,262.2 L297.2,264.3 L298.2,266.4 L299.2,268.5 L300.2,270.6 L301.2,272.7 L302.2,274.9 L303.2,277.0 L304.2,279.2 L305.2,281.4 L306.2,283.6 L307.2,285.8 L308.2,288.1 L309.2,290.3 L310.2,292.6 L311.2,294.9 L312.2,297.3 L313.2,299.6 L314.2,302.0 L315.2,304.4 L316.2,306.8 L317.2,309.2 L318.2,311.7 L319.2,314.2 L320.2,316.7 L321.2,319.2 L322.2,321.8 L323.2,324.4 L324.2,327.0 L325.2,329.6 L326.2,332.3 L327.2,335.0 L328.2,337.7 L329.2,340.5 L330.2,343.3 L331.2,346.1 L332.2,349.0 L333.2,351.9 L334.2,354.8 L335.2,357.8 L336.2,360.8 L337.2,363.8 L338.2,366.9 L339.2,370.0 L340.2,373.1 L341.2,376.3 L342.2,379.5 L343.2,382.8 L344.2,386.1 L345.2,389.4 L346.2,392.8 L347.2,396.1 L348.2,399.5 L349.2,403.0 L350.2,406.4 L351.2,409.9 L352.2,413.3 L353.2,416.8 L354.2,420.3 L355.2,423.8 L356.2,427.2 L357.2,430.7 L358.2,434.2 L359.2,437.6 L360.2,441.1 L361.2,444.5 L362.2,447.9 L363.2,451.3 L364.2,454.6 L365.2,457.9 L366.2,461.2 L367.2,464.4 L368.2,467.6 L369.2,470.8 L370.2,473.9 L371.2,477.0 L372.2,480.0 L373.2,482.9 L374.2,485.8 L375.2,488.6 L376.2,491.3 L377.2,493.9 L378.2,496.4 L379.2,498.8 L380.2,501.0 L381.2,503.1 L382.2,505.1 L383.2,507.0 L384.2,508.7 L385.2,510.3 L386.2,511.7 L387.2,513.0 L388.2,514.1 L389.2,515.1 L390.2,515.9 L391.2,516.6 L392.2,517.2 L393.2,517.7 L394.2,518.0 L395.2,518.3 L396.2,518.4 L397.2,518.5 L398.2,518.5 L399.2,518.5 L400.2,518.4 L401.2,518.2 L402.2,518.0 L403.2,517.7 L404.2,517.5 L405.2,517.2 L406.2,516.9 L407.2,516.5 L408.2,516.2 L409.2,515.8 L410.2,515.5 L411.2,515.2 L412.2,514.9 L413.2,514.6 L414.2,514.3 L415.2,514.1 L416.2,513.9 L417.2,513.7 L418.2,513.5 L419.2,513.3 L420.2,513.1 L421.2,513.0 L422.2,512.9 L423.2,512.7 L424.2,512.6 L425.2,512.5 L426.2,512.5 L427.2,512.4 L428.2,512.3 L429.2,512.3 L430.2,512.2 L431.2,512.2 L432.2,512.2 L433.2,512.2 L434.2,512.1 L435.2,512.1 L436.2,512.1 L437.2,512.1 L438.2,512.1 L439.2,512.1 L440.2,512.1 L441.2,512.1 L442.2,512.1 L443.2,512.1 L444.2,512.1 L445.2,512.1 L446.2,512.1 L447.2,512.1 L448.2,512.1 L449.2,512.0 L450.2,512.0 L451.2,512.0 L452.2,511.9 L453.2,511.9 L454.2,511.8 L455.2,511.7 L456.2,511.7 L457.2,511.6 L458.2,511.5 L459.2,511.4 L460.2,511.3 L461.2,511.1 L462.2,511.0 L463.2,510.9 L464.2,510.7 L465.2,510.6 L466.2,510.4 L467.2,510.2 L468.2,510.1 L469.2,509.9 L470.2,509.7 L471.2,509.5 L472.2,509.4 L473.2,509.2 L474.2,509.0 L475.2,508.8 L476.2,508.6 L477.2,508.4 L478.2,508.2 L479.2,508.1 L480.2,507.9 L481.2,507.7 L482.2,507.5 L483.2,507.3 L484.2,507.1 L485.2,507.0 L486.2,506.8 L487.2,506.6 L488.2,506.5 L489.2,506.3 L490.2,506.1 L491.2,506.0 L492.2,505.9 L493.2,505.7 L494.2,505.6 L495.2,505.5 L496.2,505.4 L497.2,505.2 L498.2,505.1 L499.2,505.0 L500.2,504.9 L501.2,504.8 L502.2,504.7 L503.2,504.7 L504.2,504.6 L505.2,504.5 L506.2,504.4 L507.2,504.3 L508.2,504.3 L509.2,504.2 L510.2,504.1 L511.2,504.0 L512.2,504.0 L513.2,503.9 L514.2,503.8 L515.2,503.7 L516.2,503.7 L517.2,503.6 L518.2,503.5 L519.2,503.5 L520.2,503.4 L521.2,503.3 L522.2,503.2 L523.2,503.2 L524.2,503.1 L525.2,503.0 L526.2,503.0 L527.2,502.9 L528.2,502.8 L529.2,502.7 L530.2,502.7 L531.2,502.6 L532.2,502.5 L533.2,502.5 L534.2,502.4 L535.2,502.3 L536.2,502.3 L537.2,502.2 L538.2,502.1 L539.2,502.1 L540.2,502.0 L541.2,502.0 L542.2,501.9 L543.2,501.9 L544.2,501.8 L545.2,501.7 L546.2,501.7 L547.2,501.7 L548.2,501.6 L549.2,501.6 L550.2,501.5 L551.2,501.5 L552.2,501.4 L553.2,501.4 L554.2,501.4 L555.2,501.3 L556.2,501.3 L557.2,501.3 L558.2,501.3 L559.2,501.2 L560.2,501.2 L561.2,501.2 L562.2,501.2 L563.2,501.2 L564.2,501.2 L565.2,501.2 L566.2,501.2 L567.2,501.2 L568.2,501.2 L569.2,501.2 L570.2,501.3 L571.2,501.3 L572.2,501.3 L573.2,501.3 L574.2,501.4 L575.2,501.4 L576.2,501.5 L577.2,501.6 L578.2,501.6 L579.2,501.7 L580.2,501.8 L581.2,501.9 L582.2,501.9 L583.2,502.0 L584.2,502.1 L585.2,502.2 L586.2,502.3 L587.2,502.4 L588.2,502.5 L589.2,502.6 L590.2,502.7 L591.2,502.8 L592.2,502.9 L593.2,503.0 L594.2,503.1 L595.2,503.1 L596.2,503.2 L597.2,503.3 L598.2,503.3 L599.2,503.3 L600.2,503.3 L601.2,503.3 L602.2,503.3 L603.2,503.3 L604.2,503.3 L605.2,503.2 L606.2,503.2 L607.2,503.1 L608.2,503.0 L609.2,502.9 L610.2,502.8 L611.2,502.7 L612.2,502.5 L613.2,502.4 L614.2,502.3 L615.2,502.1 L616.2,501.9 L617.2,501.8 L618.2,501.6 L619.2,501.5 L620.2,501.3 L621.2,501.1 L622.2,501.0 L623.2,500.8 L624.2,500.6 L625.2,500.5 L626.2,500.3 L627.2,500.1 L628.2,500.0 L629.2,499.8 L630.2,499.7 L631.2,499.5 L632.2,499.4 L633.2,499.3 L634.2,499.2 L635.2,499.1 L636.2,499.0 L637.2,498.9 L638.2,498.8 L639.2,498.8 L640.2,498.7 L641.2,498.7 L642.2,498.7 L643.2,498.7 L644.2,498.7 L645.2,498.7 L646.2,498.8 L647.2,498.8 L648.2,498.9 L649.2,499.0 L650.2,499.1 L651.2,499.2 L652.2,499.3 L653.2,499.5 L654.2,499.6 L655.2,499.7 L656.2,499.9 L657.2,500.1 L658.2,500.2 L659.2,500.4 L660.2,500.5 L661.2,500.7 L662.2,500.8 L663.2,501.0 L664.2,501.2 L665.2,501.3 L666.2,501.4 L667.2,501.6 L668.2,501.7 L669.2,501.8 L670.2,501.9 L671.2,502.0 L672.2,502.1 L673.2,502.2 L674.2,502.3 L675.2,502.3 L676.2,502.3 L677.2,502.4 L678.2,502.4 L679.2,502.4 L680.2,502.3 L681.2,502.3 L682.2,502.2 L683.2,502.2 L684.2,502.1 L685.2,502.0 L686.2,501.9 L687.2,501.8 L688.2,501.6 L689.2,501.5 L690.2,501.3 L691.2,501.1 L692.2,500.9 L693.2,500.7 L694.2,500.5 L695.2,500.3 L696.2,500.0 L697.2,499.8 L698.2,499.5 L699.2,499.2 L700.2,499.0 L701.2,498.7 L702.2,498.4 L703.2,498.0 L704.2,497.7 L705.2,497.4 L706.2,497.1 L707.2,496.7 L708.2,496.4 L709.2,496.0 L710.2,495.7 L711.2,495.3 L712.2,495.0 L713.2,494.6 L714.2,494.2 L715.2,493.8 L716.2,493.5 L717.2,493.1 L718.2,492.7 L719.2,492.4 L720.2,492.0 L721.2,491.6 L722.2,491.2 L723.2,490.9 L724.2,490.5 L725.2,490.1 L726.2,489.8 L727.2,489.4 L728.2,489.1 L729.2,488.7 L730.2,488.4 L731.2,488.0 L732.2,487.7 L733.2,487.4 L734.2,487.1 L735.2,486.8 L736.2,486.5 L737.2,486.2 L738.2,485.9 L739.2,485.6 L740.2,485.3 L741.2,485.0 L742.2,484.8 L743.2,484.5 L744.2,484.2 L745.2,483.9 L746.2,483.6 L747.2,483.3 L748.2,482.9 L749.2,482.6 L750.2,482.3 L751.2,481.9 L752.2,481.5 L753.2,481.1 L754.2,480.7 L755.2,480.3 L756.2,479.9 L757.2,479.5 L758.2,479.1 L759.2,478.7 L760.2,478.3 L761.2,477.9 L762.2,477.4 L763.2,477.0 L764.2,476.6 L765.2,476.2 L766.2,475.8 L767.2,475.4 L768.2,475.0 L769.2,474.7 L770.2,474.3 L771.2,473.9 L772.2,473.5 L773.2,473.2 L774.2,472.8 L775.2,472.4 L776.2,472.1 L777.2,471.7 L778.2,471.4 L779.2,471.1 L780.2,470.7 L781.2,470.4 L782.2,470.1 L783.2,469.8 L784.2,469.5 L785.2,469.2 L786.2,468.9 L787.2,468.5 L788.2,468.3 L789.2,468.0 L790.2,467.7 L791.2,467.4 L792.2,467.1 L793.2,466.8 L794.2,466.5 L795.2,466.2 L796.2,466.0 L797.2,465.7 L798.2,465.4 L799.2,465.1 L800.2,464.9 L801.2,464.6 L802.2,464.3 L803.2,464.0 L804.2,463.8 L805.2,463.5 L806.2,463.2 L807.2,463.0 L808.2,462.7 L809.2,462.4 L810.2,462.2 L811.2,461.9 L812.2,461.6 L812.9,461.4" stroke="#800080" stroke-width="1.9"/>
<path d="M85.2,60.1 L86.2,60.5 L87.2,60.8 L88.2,61.2 L89.2,61.5 L90.2,61.9 L91.2,62.3 L92.2,62.7 L93.2,63.1 L94.2,63.5 L95.2,63.9 L96.2,64.3 L97.2,64.8 L98.2,65.2 L99.2,65.6 L100.2,66.1 L101.2,66.5 L102.2,67.0 L103.2,67.4 L104.2,67.9 L105.2,68.4 L106.2,68.8 L107.2,69.3 L108.2,69.8 L109.2,70.3 L110.2,70.8 L111.2,71.3 L112.2,71.9 L113.2,72.4 L114.2,72.9 L115.2,73.4 L116.2,74.0 L117.2,74.5 L118.2,75.1 L119.2,75.7 L120.2,76.2 L121.2,76.8 L122.2,77.4 L123.2,78.0 L124.2,78.5 L125.2,79.1 L126.2,79.8 L127.2,80.4 L128.2,81.0 L129.2,81.6 L130.2,82.2 L131.2,82.9 L132.2,83.5 L133.2,84.2 L134.2,84.8 L135.2,85.5 L136.2,86.1 L137.2,86.8 L138.2,87.5 L139.2,88.2 L140.2,88.9 L141.2,89.6 L142.2,90.3 L143.2,91.0 L144.2,91.7 L145.2,92.4 L146.2,93.1 L147.2,93.9 L148.2,94.6 L149.2,95.4 L150.2,96.1 L151.2,96.9 L152.2,97.6 L153.2,98.4 L154.2,99.2 L155.2,100.0 L156.2,100.7 L157.2,101.5 L158.2,102.3 L159.2,103.2 L160.2,104.0 L161.2,104.8 L162.2,105.6 L163.2,106.5 L164.2,107.3 L165.2,108.2 L166.2,109.0 L167.2,109.9 L168.2,110.8 L169.2,111.7 L170.2,112.6 L171.2,113.5 L172.2,114.4 L173.2,115.4 L174.2,116.3 L175.2,117.2 L176.2,118.2 L177.2,119.2 L178.2,120.2 L179.2,121.2 L180.2,122.2 L181.2,123.2 L182.2,124.2 L183.2,125.2 L184.2,126.3 L185.2,127.3 L186.2,128.4 L187.2,129.5 L188.2,130.6 L189.2,131.7 L190.2,132.8 L191.2,134.0 L192.2,135.1 L193.2,136.3 L194.2,137.5 L195.2,138.7 L196.2,139.9 L197.2,141.1 L198.2,142.3 L199.2,143.6 L200.2,144.9 L201.2,146.1 L202.2,147.4 L203.2,148.8 L204.2,150.1 L205.2,151.4 L206.2,152.8 L207.2,154.1 L208.2,155.5 L209.2,156.9 L210.2,158.3 L211.2,159.8 L212.2,161.2 L213.2,162.7 L214.2,164.1 L215.2,165.6 L216.2,167.1 L217.2,168.6 L218.2,170.1 L219.2,171.7 L220.2,173.2 L221.2,174.8 L222.2,176.4 L223.2,178.0 L224.2,179.6 L225.2,181.2 L226.2,182.8 L227.2,184.5 L228.2,186.1 L229.2,187.8 L230.2,189.5 L231.2,191.2 L232.2,192.9 L233.2,194.6 L234.2,196.3 L235.2,198.1 L236.2,199.8 L237.2,201.6 L238.2,203.4 L239.2,205.2 L240.2,207.0 L241.2,208.8 L242.2,210.6 L243.2,212.5 L244.2,214.3 L245.2,216.2 L246.2,218.0 L247.2,219.9 L248.2,221.8 L249.2,223.7 L250.2,225.6 L251.2,227.6 L252.2,229.5 L253.2,231.5 L254.2,233.4 L255.2,235.4 L256.2,237.4 L257.2,239.4 L258.2,241.4 L259.2,243.4 L260.2,245.4 L261.2,247.4 L262.2,249.5 L263.2,251.5 L264.2,253.6 L265.2,255.7 L266.2,257.7 L267.2,259.8 L268.2,261.9 L269.2,264.1 L270.2,266.2 L271.2,268.3 L272.2,270.5 L273.2,272.6 L274.2,274.8 L275.2,277.0 L276.2,279.2 L277.2,281.4 L278.2,283.6 L279.2,285.9 L280.2,288.1 L281.2,290.4 L282.2,292.7 L283.2,295.0 L284.2,297.3 L285.2,299.7 L286.2,302.1 L287.2,304.5 L288.2,306.9 L289.2,309.3 L290.2,311.8 L291.2,314.3 L292.2,316.8 L293.2,319.4 L294.2,321.9 L295.2,324.5 L296.2,327.1 L297.2,329.8 L298.2,332.5 L299.2,335.2 L300.2,337.9 L301.2,340.6 L302.2,343.4 L303.2,346.3 L304.2,349.1 L305.2,352.0 L306.2,354.9 L307.2,357.9 L308.2,360.9 L309.2,363.9 L310.2,367.0 L311.2,370.1 L312.2,373.2 L313.2,376.4 L314.2,379.6 L315.2,382.8 L316.2,386.1 L317.2,389.5 L318.2,392.8 L319.2,396.2 L320.2,399.7 L321.2,403.1 L322.2,406.6 L323.2,410.2 L324.2,413.7 L325.2,417.4 L326.2,421.0 L327.2,424.7 L328.2,428.3 L329.2,432.1 L330.2,435.8 L331.2,439.6 L332.2,443.4 L333.2,447.3 L334.2,451.1 L335.2,455.0 L336.2,458.9 L337.2,462.8 L338.2,466.6 L339.2,470.4 L340.2,474.0 L341.2,477.5 L342.2,480.9 L343.2,484.1 L344.2,487.1 L345.2,490.0 L346.2,492.7 L347.2,495.2 L348.2,497.6 L349.2,499.8 L350.2,501.9 L351.2,503.9 L352.2,505.7 L353.2,507.3 L354.2,508.9 L355.2,510.3 L356.2,511.5 L357.2,512.6 L358.2,513.7 L359.2,514.5 L360.2,515.3 L361.2,515.9 L362.2,516.5 L363.2,516.9 L364.2,517.2 L365.2,517.4 L366.2,517.5 L367.2,517.5 L368.2,517.5 L369.2,517.4 L370.2,517.2 L371.2,516.9 L372.2,516.7 L373.2,516.4 L374.2,516.0 L375.2,515.7 L376.2,515.3 L377.2,514.9 L378.2,514.6 L379.2,514.2 L380.2,513.9 L381.2,513.6 L382.2,513.4 L383.2,513.2 L384.2,513.0 L385.2,512.9 L386.2,512.8 L387.2,512.7 L388.2,512.7 L389.2,512.7 L390.2,512.7 L391.2,512.7 L392.2,512.8 L393.2,512.9 L394.2,513.0 L395.2,513.1 L396.2,513.2 L397.2,513.3 L398.2,513.5 L399.2,513.6 L400.2,513.7 L401.2,513.9 L402.2,514.0 L403.2,514.1 L404.2,514.3 L405.2,514.4 L406.2,514.6 L407.2,514.7 L408.2,514.9 L409.2,515.0 L410.2,515.2 L411.2,515.3 L412.2,515.5 L413.2,515.6 L414.2,515.8 L415.2,515.9 L416.2,516.1 L417.2,516.2 L418.2,516.4 L419.2,516.5 L420.2,516.7 L421.2,516.8 L422.2,516.9 L423.2,517.1 L424.2,517.2 L425.2,517.3 L426.2,517.4 L427.2,517.6 L428.2,517.7 L429.2,517.8 L430.2,517.9 L431.2,518.0 L432.2,518.1 L433.2,518.1 L434.2,518.2 L435.2,518.3 L436.2,518.4 L437.2,518.4 L438.2,518.5 L439.2,518.5 L440.2,518.5 L441.2,518.6 L442.2,518.6 L443.2,518.6 L444.2,518.6 L445.2,518.6 L446.2,518.6 L447.2,518.6 L448.2,518.6 L449.2,518.6 L450.2,518.6 L451.2,518.6 L452.2,518.5 L453.2,518.5 L454.2,518.5 L455.2,518.4 L456.2,518.4 L457.2,518.3 L458.2,518.3 L459.2,518.2 L460.2,518.1 L461.2,518.1 L462.2,518.0 L463.2,518.0 L464.2,517.9 L465.2,517.8 L466.2,517.7 L467.2,517.6 L468.2,517.6 L469.2,517.5 L470.2,517.4 L471.2,517.3 L472.2,517.2 L473.2,517.1 L474.2,517.0 L475.2,516.9 L476.2,516.8 L477.2,516.8 L478.2,516.7 L479.2,516.6 L480.2,516.5 L481.2,516.4 L482.2,516.3 L483.2,516.2 L484.2,516.1 L485.2,516.0 L486.2,515.9 L487.2,515.8 L488.2,515.7 L489.2,515.6 L490.2,515.5 L491.2,515.4 L492.2,515.3 L493.2,515.2 L494.2,515.1 L495.2,515.0 L496.2,515.0 L497.2,514.9 L498.2,514.8 L499.2,514.7 L500.2,514.6 L501.2,514.5 L502.2,514.4 L503.2,514.4 L504.2,514.3 L505.2,514.2 L506.2,514.1 L507.2,514.0 L508.2,513.9 L509.2,513.9 L510.2,513.8 L511.2,513.7 L512.2,513.6 L513.2,513.5 L514.2,513.4 L515.2,513.3 L516.2,513.2 L517.2,513.1 L518.2,513.0 L519.2,512.9 L520.2,512.8 L521.2,512.7 L522.2,512.6 L523.2,512.5 L524.2,512.4 L525.2,512.3 L526.2,512.2 L527.2,512.1 L528.2,512.0 L529.2,511.8 L530.2,511.7 L531.2,511.6 L532.2,511.5 L533.2,511.3 L534.2,511.2 L535.2,511.1 L536.2,511.0 L537.2,510.9 L538.2,510.7 L539.2,510.6 L540.2,510.5 L541.2,510.4 L542.2,510.3 L543.2,510.2 L544.2,510.1 L545.2,510.0 L546.2,510.0 L547.2,509.9 L548.2,509.8 L549.2,509.8 L550.2,509.7 L551.2,509.7 L552.2,509.7 L553.2,509.6 L554.2,509.6 L555.2,509.6 L556.2,509.6 L557.2,509.6 L558.2,509.6 L559.2,509.7 L560.2,509.7 L561.2,509.7 L562.2,509.8 L563.2,509.8 L564.2,509.8 L565.2,509.9 L566.2,509.9 L567.2,510.0 L568.2,510.0 L569.2,510.1 L570.2,510.1 L571.2,510.2 L572.2,510.2 L573.2,510.3 L574.2,510.3 L575.2,510.4 L576.2,510.4 L577.2,510.4 L578.2,510.5 L579.2,510.5 L580.2,510.5 L581.2,510.5 L582.2,510.5 L583.2,510.5 L584.2,510.5 L585.2,510.4 L586.2,510.4 L587.2,510.4 L588.2,510.3 L589.2,510.2 L590.2,510.1 L591.2,510.0 L592.2,509.9 L593.2,509.8 L594.2,509.7 L595.2,509.5 L596.2,509.4 L597.2,509.2 L598.2,509.1 L599.2,508.9 L600.2,508.8 L601.2,508.6 L602.2,508.5 L603.2,508.3 L604.2,508.2 L605.2,508.0 L606.2,507.9 L607.2,507.8 L608.2,507.7 L609.2,507.5 L610.2,507.4 L611.2,507.3 L612.2,507.3 L613.2,507.2 L614.2,507.1 L615.2,507.1 L616.2,507.0 L617.2,507.0 L618.2,507.0 L619.2,507.0 L620.2,507.0 L621.2,507.0 L622.2,507.0 L623.2,507.1 L624.2,507.1 L625.2,507.2 L626.2,507.2 L627.2,507.3 L628.2,507.4 L629.2,507.5 L630.2,507.6 L631.2,507.7 L632.2,507.9 L633.2,508.0 L634.2,508.1 L635.2,508.3 L636.2,508.4 L637.2,508.6 L638.2,508.7 L639.2,508.9 L640.2,509.0 L641.2,509.2 L642.2,509.4 L643.2,509.5 L644.2,509.7 L645.2,509.9 L646.2,510.0 L647.2,510.2 L648.2,510.4 L649.2,510.5 L650.2,510.7 L651.2,510.8 L652.2,510.9 L653.2,511.1 L654.2,511.2 L655.2,511.3 L656.2,511.4 L657.2,511.6 L658.2,511.6 L659.2,511.7 L660.2,511.8 L661.2,511.9 L662.2,511.9 L663.2,512.0 L664.2,512.0 L665.2,512.0 L666.2,512.0 L667.2,512.0 L668.2,511.9 L669.2,511.9 L670.2,511.8 L671.2,511.7 L672.2,511.6 L673.2,511.5 L674.2,511.4 L675.2,511.2 L676.2,511.1 L677.2,510.9 L678.2,510.7 L679.2,510.5 L680.2,510.3 L681.2,510.1 L682.2,509.9 L683.2,509.7 L684.2,509.5 L685.2,509.2 L686.2,509.0 L687.2,508.7 L688.2,508.5 L689.2,508.2 L690.2,507.9 L691.2,507.6 L692.2,507.4 L693.2,507.1 L694.2,506.8 L695.2,506.5 L696.2,506.2 L697.2,505.9 L698.2,505.7 L699.2,505.4 L700.2,505.1 L701.2,504.8 L702.2,504.5 L703.2,504.2 L704.2,503.9 L705.2,503.7 L706.2,503.4 L707.2,503.1 L708.2,502.8 L709.2,502.5 L710.2,502.2 L711.2,501.9 L712.2,501.6 L713.2,501.3 L714.2,501.0 L715.2,500.7 L716.2,500.4 L717.2,500.1 L718.2,499.8 L719.2,499.4 L720.2,499.1 L721.2,498.8 L722.2,498.4 L723.2,498.1 L724.2,497.7 L725.2,497.4 L726.2,497.0 L727.2,496.7 L728.2,496.3 L729.2,495.9 L730.2,495.5 L731.2,495.2 L732.2,494.8 L733.2,494.4 L734.2,494.0 L735.2,493.6 L736.2,493.2 L737.2,492.8 L738.2,492.4 L739.2,492.0 L740.2,491.6 L741.2,491.2 L742.2,490.7 L743.2,490.3 L744.2,489.9 L745.2,489.5 L746.2,489.1 L747.2,488.7 L748.2,488.3 L749.2,487.8 L750.2,487.4 L751.2,487.0 L752.2,486.6 L753.2,486.2 L754.2,485.8 L755.2,485.3 L756.2,484.9 L757.2,484.5 L758.2,484.1 L759.2,483.7 L760.2,483.3 L761.2,482.9 L762.2,482.5 L763.2,482.1 L764.2,481.7 L765.2,481.3 L766.2,481.0 L767.2,480.6 L768.2,480.2 L769.2,479.9 L770.2,479.5 L771.2,479.2 L772.2,478.8 L773.2,478.5 L774.2,478.2 L775.2,477.9 L776.2,477.5 L777.2,477.2 L778.2,476.9 L779.2,476.7 L780.2,476.4 L781.2,476.1 L782.2,475.8 L783.2,475.5 L784.2,475.2 L785.2,475.0 L786.2,474.7 L787.2,474.4 L788.2,474.1 L789.2,473.9 L790.2,473.6 L791.2,473.3 L792.2,473.0 L793.2,472.7 L794.2,472.4 L795.2,472.1 L796.2,471.8 L797.2,471.5 L798.2,471.1 L799.2,470.8 L800.2,470.5 L801.2,470.1 L802.2,469.7 L803.2,469.4 L804.2,469.0 L805.2,468.6 L806.2,468.2 L807.2,467.7 L808.2,467.3 L809.2,466.8 L810.2,466.3 L811.2,465.8 L812.2,465.3 L812.9,465.0" stroke="#ff8000" stroke-width="1.9"/>
<path d="M85.2,70.2 L86.2,70.7 L87.2,71.2 L88.2,71.7 L89.2,72.3 L90.2,72.8 L91.2,73.3 L92.2,73.9 L93.2,74.4 L94.2,74.9 L95.2,75.5 L96.2,76.0 L97.2,76.6 L98.2,77.1 L99.2,77.7 L100.2,78.3 L101.2,78.8 L102.2,79.4 L103.2,80.0 L104.2,80.6 L105.2,81.2 L106.2,81.8 L107.2,82.4 L108.2,83.0 L109.2,83.6 L110.2,84.2 L111.2,84.8 L112.2,85.5 L113.2,86.1 L114.2,86.8 L115.2,87.4 L116.2,88.1 L117.2,88.8 L118.2,89.4 L119.2,90.1 L120.2,90.8 L121.2,91.5 L122.2,92.3 L123.2,93.0 L124.2,93.7 L125.2,94.5 L126.2,95.2 L127.2,96.0 L128.2,96.8 L129.2,97.5 L130.2,98.3 L131.2,99.1 L132.2,100.0 L133.2,100.8 L134.2,101.6 L135.2,102.5 L136.2,103.3 L137.2,104.2 L138.2,105.1 L139.2,106.0 L140.2,106.9 L141.2,107.8 L142.2,108.7 L143.2,109.7 L144.2,110.6 L145.2,111.6 L146.2,112.6 L147.2,113.6 L148.2,114.5 L149.2,115.5 L150.2,116.5 L151.2,117.6 L152.2,118.6 L153.2,119.6 L154.2,120.6 L155.2,121.7 L156.2,122.7 L157.2,123.8 L158.2,124.8 L159.2,125.9 L160.2,127.0 L161.2,128.0 L162.2,129.1 L163.2,130.2 L164.2,131.3 L165.2,132.3 L166.2,133.4 L167.2,134.5 L168.2,135.6 L169.2,136.7 L170.2,137.8 L171.2,138.9 L172.2,140.0 L173.2,141.2 L174.2,142.3 L175.2,143.4 L176.2,144.6 L177.2,145.7 L178.2,146.9 L179.2,148.1 L180.2,149.3 L181.2,150.5 L182.2,151.7 L183.2,153.0 L184.2,154.2 L185.2,155.5 L186.2,156.7 L187.2,158.0 L188.2,159.4 L189.2,160.7 L190.2,162.0 L191.2,163.4 L192.2,164.7 L193.2,166.1 L194.2,167.5 L195.2,168.9 L196.2,170.3 L197.2,171.8 L198.2,173.2 L199.2,174.7 L200.2,176.2 L201.2,177.7 L202.2,179.2 L203.2,180.7 L204.2,182.2 L205.2,183.8 L206.2,185.4 L207.2,187.0 L208.2,188.5 L209.2,190.2 L210.2,191.8 L211.2,193.4 L212.2,195.1 L213.2,196.8 L214.2,198.4 L215.2,200.1 L216.2,201.9 L217.2,203.6 L218.2,205.3 L219.2,207.1 L220.2,208.9 L221.2,210.6 L222.2,212.4 L223.2,214.3 L224.2,216.1 L225.2,217.9 L226.2,219.8 L227.2,221.7 L228.2,223.6 L229.2,225.5 L230.2,227.4 L231.2,229.3 L232.2,231.3 L233.2,233.2 L234.2,235.2 L235.2,237.2 L236.2,239.2 L237.2,241.2 L238.2,243.3 L239.2,245.3 L240.2,247.4 L241.2,249.5 L242.2,251.6 L243.2,253.7 L244.2,255.8 L245.2,257.9 L246.2,260.1 L247.2,262.3 L248.2,264.5 L249.2,266.7 L250.2,268.9 L251.2,271.1 L252.2,273.4 L253.2,275.6 L254.2,277.9 L255.2,280.2 L256.2,282.5 L257.2,284.8 L258.2,287.1 L259.2,289.5 L260.2,291.9 L261.2,294.2 L262.2,296.6 L263.2,299.0 L264.2,301.5 L265.2,303.9 L266.2,306.4 L267.2,308.9 L268.2,311.4 L269.2,313.9 L270.2,316.5 L271.2,319.1 L272.2,321.7 L273.2,324.3 L274.2,326.9 L275.2,329.6 L276.2,332.3 L277.2,335.0 L278.2,337.8 L279.2,340.6 L280.2,343.4 L281.2,346.2 L282.2,349.1 L283.2,352.0 L284.2,354.9 L285.2,357.9 L286.2,360.9 L287.2,363.9 L288.2,367.0 L289.2,370.1 L290.2,373.2 L291.2,376.4 L292.2,379.6 L293.2,382.9 L294.2,386.2 L295.2,389.5 L296.2,392.9 L297.2,396.3 L298.2,399.7 L299.2,403.2 L300.2,406.8 L301.2,410.3 L302.2,414.0 L303.2,417.6 L304.2,421.3 L305.2,425.0 L306.2,428.8 L307.2,432.5 L308.2,436.2 L309.2,440.0 L310.2,443.7 L311.2,447.4 L312.2,451.1 L313.2,454.7 L314.2,458.4 L315.2,461.9 L316.2,465.5 L317.2,468.9 L318.2,472.3 L319.2,475.6 L320.2,478.8 L321.2,481.9 L322.2,484.9 L323.2,487.7 L324.2,490.3 L325.2,492.7 L326.2,495.0 L327.2,497.1 L328.2,499.1 L329.2,500.9 L330.2,502.5 L331.2,504.0 L332.2,505.4 L333.2,506.6 L334.2,507.7 L335.2,508.7 L336.2,509.6 L337.2,510.4 L338.2,511.1 L339.2,511.7 L340.2,512.2 L341.2,512.6 L342.2,513.0 L343.2,513.2 L344.2,513.5 L345.2,513.6 L346.2,513.7 L347.2,513.8 L348.2,513.8 L349.2,513.8 L350.2,513.8 L351.2,513.8 L352.2,513.7 L353.2,513.7 L354.2,513.6 L355.2,513.5 L356.2,513.5 L357.2,513.4 L358.2,513.4 L359.2,513.3 L360.2,513.3 L361.2,513.3 L362.2,513.3 L363.2,513.3 L364.2,513.3 L365.2,513.4 L366.2,513.4 L367.2,513.5 L368.2,513.5 L369.2,513.6 L370.2,513.7 L371.2,513.8 L372.2,513.9 L373.2,514.1 L374.2,514.2 L375.2,514.4 L376.2,514.6 L377.2,514.8 L378.2,515.0 L379.2,515.2 L380.2,515.5 L381.2,515.7 L382.2,516.0 L383.2,516.3 L384.2,516.6 L385.2,517.0 L386.2,517.3 L387.2,517.7 L388.2,518.0 L389.2,518.4 L390.2,518.8 L391.2,519.1 L392.2,519.5 L393.2,519.9 L394.2,520.3 L395.2,520.6 L396.2,521.0 L397.2,521.3 L398.2,521.7 L399.2,522.0 L400.2,522.3 L401.2,522.6 L402.2,522.9 L403.2,523.2 L404.2,523.5 L405.2,523.8 L406.2,524.0 L407.2,524.3 L408.2,524.5 L409.2,524.7 L410.2,524.9 L411.2,525.1 L412.2,525.3 L413.2,525.5 L414.2,525.7 L415.2,525.8 L416.2,526.0 L417.2,526.1 L418.2,526.3 L419.2,526.4 L420.2,526.5 L421.2,526.6 L422.2,526.7 L423.2,526.8 L424.2,526.9 L425.2,527.0 L426.2,527.0 L427.2,527.1 L428.2,527.2 L429.2,527.2 L430.2,527.2 L431.2,527.3 L432.2,527.3 L433.2,527.3 L434.2,527.3 L435.2,527.4 L436.2,527.4 L437.2,527.4 L438.2,527.3 L439.2,527.3 L440.2,527.3 L441.2,527.3 L442.2,527.3 L443.2,527.2 L444.2,527.2 L445.2,527.1 L446.2,527.1 L447.2,527.0 L448.2,527.0 L449.2,526.9 L450.2,526.8 L451.2,526.8 L452.2,526.7 L453.2,526.6 L454.2,526.5 L455.2,526.4 L456.2,526.3 L457.2,526.3 L458.2,526.2 L459.2,526.1 L460.2,525.9 L461.2,525.8 L462.2,525.7 L463.2,525.6 L464.2,525.5 L465.2,525.4 L466.2,525.3 L467.2,525.1 L468.2,525.0 L469.2,524.9 L470.2,524.7 L471.2,524.6 L472.2,524.5 L473.2,524.3 L474.2,524.2 L475.2,524.1 L476.2,523.9 L477.2,523.8 L478.2,523.6 L479.2,523.5 L480.2,523.3 L481.2,523.2 L482.2,523.0 L483.2,522.9 L484.2,522.7 L485.2,522.6 L486.2,522.4 L487.2,522.3 L488.2,522.1 L489.2,522.0 L490.2,521.8 L491.2,521.7 L492.2,521.5 L493.2,521.4 L494.2,521.2 L495.2,521.1 L496.2,521.0 L497.2,520.8 L498.2,520.7 L499.2,520.5 L500.2,520.4 L501.2,520.2 L502.2,520.1 L503.2,519.9 L504.2,519.8 L505.2,519.7 L506.2,519.5 L507.2,519.4 L508.2,519.3 L509.2,519.1 L510.2,519.0 L511.2,518.9 L512.2,518.8 L513.2,518.7 L514.2,518.5 L515.2,518.4 L516.2,518.3 L517.2,518.2 L518.2,518.1 L519.2,518.0 L520.2,517.9 L521.2,517.8 L522.2,517.7 L523.2,517.6 L524.2,517.6 L525.2,517.5 L526.2,517.4 L527.2,517.3 L528.2,517.3 L529.2,517.2 L530.2,517.2 L531.2,517.1 L532.2,517.1 L533.2,517.0 L534.2,517.0 L535.2,516.9 L536.2,516.9 L537.2,516.9 L538.2,516.9 L539.2,516.9 L540.2,516.9 L541.2,516.9 L542.2,516.9 L543.2,516.9 L544.2,516.9 L545.2,516.9 L546.2,516.9 L547.2,517.0 L548.2,517.0 L549.2,517.1 L550.2,517.1 L551.2,517.2 L552.2,517.2 L553.2,517.3 L554.2,517.3 L555.2,517.4 L556.2,517.5 L557.2,517.5 L558.2,517.6 L559.2,517.6 L560.2,517.7 L561.2,517.7 L562.2,517.8 L563.2,517.8 L564.2,517.8 L565.2,517.8 L566.2,517.9 L567.2,517.9 L568.2,517.8 L569.2,517.8 L570.2,517.8 L571.2,517.7 L572.2,517.7 L573.2,517.6 L574.2,517.6 L575.2,517.5 L576.2,517.4 L577.2,517.4 L578.2,517.3 L579.2,517.2 L580.2,517.1 L581.2,517.0 L582.2,516.9 L583.2,516.8 L584.2,516.7 L585.2,516.6 L586.2,516.5 L587.2,516.4 L588.2,516.3 L589.2,516.3 L590.2,516.2 L591.2,516.1 L592.2,516.0 L593.2,516.0 L594.2,515.9 L595.2,515.8 L596.2,515.8 L597.2,515.8 L598.2,515.7 L599.2,515.7 L600.2,515.7 L601.2,515.7 L602.2,515.7 L603.2,515.7 L604.2,515.7 L605.2,515.8 L606.2,515.8 L607.2,515.9 L608.2,515.9 L609.2,516.0 L610.2,516.1 L611.2,516.3 L612.2,516.4 L613.2,516.5 L614.2,516.7 L615.2,516.9 L616.2,517.0 L617.2,517.2 L618.2,517.4 L619.2,517.6 L620.2,517.8 L621.2,518.0 L622.2,518.2 L623.2,518.4 L624.2,518.6 L625.2,518.8 L626.2,519.1 L627.2,519.3 L628.2,519.4 L629.2,519.6 L630.2,519.8 L631.2,520.0 L632.2,520.2 L633.2,520.3 L634.2,520.5 L635.2,520.6 L636.2,520.7 L637.2,520.8 L638.2,520.9 L639.2,521.0 L640.2,521.1 L641.2,521.2 L642.2,521.3 L643.2,521.3 L644.2,521.4 L645.2,521.4 L646.2,521.5 L647.2,521.5 L648.2,521.5 L649.2,521.5 L650.2,521.5 L651.2,521.5 L652.2,521.4 L653.2,521.4 L654.2,521.4 L655.2,521.3 L656.2,521.3 L657.2,521.2 L658.2,521.1 L659.2,521.0 L660.2,520.9 L661.2,520.8 L662.2,520.7 L663.2,520.6 L664.2,520.4 L665.2,520.3 L666.2,520.1 L667.2,520.0 L668.2,519.8 L669.2,519.6 L670.2,519.5 L671.2,519.3 L672.2,519.1 L673.2,518.8 L674.2,518.6 L675.2,518.4 L676.2,518.2 L677.2,517.9 L678.2,517.7 L679.2,517.4 L680.2,517.1 L681.2,516.8 L682.2,516.6 L683.2,516.3 L684.2,516.0 L685.2,515.7 L686.2,515.4 L687.2,515.0 L688.2,514.7 L689.2,514.4 L690.2,514.0 L691.2,513.7 L692.2,513.4 L693.2,513.0 L694.2,512.6 L695.2,512.3 L696.2,511.9 L697.2,511.5 L698.2,511.2 L699.2,510.8 L700.2,510.4 L701.2,510.0 L702.2,509.6 L703.2,509.2 L704.2,508.8 L705.2,508.4 L706.2,508.0 L707.2,507.6 L708.2,507.2 L709.2,506.8 L710.2,506.4 L711.2,506.0 L712.2,505.5 L713.2,505.1 L714.2,504.7 L715.2,504.3 L716.2,503.8 L717.2,503.4 L718.2,503.0 L719.2,502.6 L720.2,502.1 L721.2,501.7 L722.2,501.3 L723.2,500.8 L724.2,500.4 L725.2,500.0 L726.2,499.6 L727.2,499.1 L728.2,498.7 L729.2,498.3 L730.2,497.8 L731.2,497.4 L732.2,497.0 L733.2,496.6 L734.2,496.2 L735.2,495.7 L736.2,495.3 L737.2,494.9 L738.2,494.5 L739.2,494.1 L740.2,493.7 L741.2,493.3 L742.2,492.9 L743.2,492.5 L744.2,492.1 L745.2,491.7 L746.2,491.3 L747.2,491.0 L748.2,490.6 L749.2,490.2 L750.2,489.8 L751.2,489.5 L752.2,489.1 L753.2,488.8 L754.2,488.4 L755.2,488.1 L756.2,487.8 L757.2,487.6 L758.2,487.3 L759.2,487.1 L760.2,486.9 L761.2,486.7 L762.2,486.6 L763.2,486.4 L764.2,486.2 L765.2,486.1 L766.2,485.9 L767.2,485.8 L768.2,485.6 L769.2,485.4 L770.2,485.2 L771.2,485.0 L772.2,484.8 L773.2,484.5 L774.2,484.2 L775.2,483.9 L776.2,483.6 L777.2,483.2 L778.2,482.9 L779.2,482.5 L780.2,482.1 L781.2,481.6 L782.2,481.2 L783.2,480.7 L784.2,480.3 L785.2,479.8 L786.2,479.3 L787.2,478.8 L788.2,478.3 L789.2,477.8 L790.2,477.3 L791.2,476.8 L792.2,476.3 L793.2,475.8 L794.2,475.2 L795.2,474.7 L796.2,474.2 L797.2,473.7 L798.2,473.2 L799.2,472.7 L800.2,472.2 L801.2,471.7 L802.2,471.2 L803.2,470.7 L804.2,470.2 L805.2,469.7 L806.2,469.2 L807.2,468.7 L808.2,468.2 L809.2,467.7 L810.2,467.2 L811.2,466.7 L812.2,466.2 L812.9,465.8" stroke="#0000aa" stroke-width="1.9"/>
<path d="M85.2,80.2 L86.2,80.8 L87.2,81.5 L88.2,82.2 L89.2,82.8 L90.2,83.5 L91.2,84.2 L92.2,84.8 L93.2,85.5 L94.2,86.2 L95.2,86.8 L96.2,87.5 L97.2,88.2 L98.2,88.9 L99.2,89.6 L100.2,90.3 L101.2,91.0 L102.2,91.7 L103.2,92.4 L104.2,93.2 L105.2,93.9 L106.2,94.6 L107.2,95.4 L108.2,96.1 L109.2,96.9 L110.2,97.6 L111.2,98.4 L112.2,99.2 L113.2,99.9 L114.2,100.7 L115.2,101.5 L116.2,102.3 L117.2,103.1 L118.2,104.0 L119.2,104.8 L120.2,105.6 L121.2,106.5 L122.2,107.4 L123.2,108.2 L124.2,109.1 L125.2,110.0 L126.2,110.9 L127.2,111.8 L128.2,112.7 L129.2,113.7 L130.2,114.6 L131.2,115.6 L132.2,116.6 L133.2,117.5 L134.2,118.5 L135.2,119.5 L136.2,120.5 L137.2,121.6 L138.2,122.6 L139.2,123.6 L140.2,124.7 L141.2,125.7 L142.2,126.8 L143.2,127.9 L144.2,129.0 L145.2,130.1 L146.2,131.2 L147.2,132.3 L148.2,133.4 L149.2,134.5 L150.2,135.7 L151.2,136.8 L152.2,138.0 L153.2,139.2 L154.2,140.3 L155.2,141.5 L156.2,142.7 L157.2,143.9 L158.2,145.1 L159.2,146.4 L160.2,147.6 L161.2,148.8 L162.2,150.1 L163.2,151.3 L164.2,152.6 L165.2,153.9 L166.2,155.1 L167.2,156.4 L168.2,157.7 L169.2,159.0 L170.2,160.3 L171.2,161.6 L172.2,162.9 L173.2,164.3 L174.2,165.6 L175.2,167.0 L176.2,168.3 L177.2,169.7 L178.2,171.1 L179.2,172.5 L180.2,173.8 L181.2,175.3 L182.2,176.7 L183.2,178.1 L184.2,179.5 L185.2,181.0 L186.2,182.4 L187.2,183.9 L188.2,185.4 L189.2,186.9 L190.2,188.4 L191.2,189.9 L192.2,191.4 L193.2,193.0 L194.2,194.5 L195.2,196.1 L196.2,197.7 L197.2,199.3 L198.2,200.9 L199.2,202.5 L200.2,204.1 L201.2,205.8 L202.2,207.4 L203.2,209.1 L204.2,210.8 L205.2,212.5 L206.2,214.3 L207.2,216.0 L208.2,217.8 L209.2,219.5 L210.2,221.3 L211.2,223.1 L212.2,225.0 L213.2,226.8 L214.2,228.7 L215.2,230.6 L216.2,232.5 L217.2,234.4 L218.2,236.3 L219.2,238.3 L220.2,240.3 L221.2,242.3 L222.2,244.3 L223.2,246.3 L224.2,248.4 L225.2,250.4 L226.2,252.5 L227.2,254.7 L228.2,256.8 L229.2,259.0 L230.2,261.1 L231.2,263.4 L232.2,265.6 L233.2,267.8 L234.2,270.1 L235.2,272.4 L236.2,274.7 L237.2,277.1 L238.2,279.4 L239.2,281.8 L240.2,284.2 L241.2,286.7 L242.2,289.1 L243.2,291.6 L244.2,294.1 L245.2,296.7 L246.2,299.2 L247.2,301.8 L248.2,304.5 L249.2,307.1 L250.2,309.8 L251.2,312.5 L252.2,315.2 L253.2,317.9 L254.2,320.7 L255.2,323.5 L256.2,326.4 L257.2,329.2 L258.2,332.1 L259.2,335.0 L260.2,338.0 L261.2,340.9 L262.2,343.9 L263.2,346.9 L264.2,350.0 L265.2,353.1 L266.2,356.1 L267.2,359.3 L268.2,362.4 L269.2,365.6 L270.2,368.7 L271.2,372.0 L272.2,375.2 L273.2,378.4 L274.2,381.7 L275.2,385.0 L276.2,388.3 L277.2,391.7 L278.2,395.0 L279.2,398.4 L280.2,401.8 L281.2,405.2 L282.2,408.6 L283.2,412.1 L284.2,415.6 L285.2,419.1 L286.2,422.6 L287.2,426.1 L288.2,429.6 L289.2,433.1 L290.2,436.6 L291.2,440.1 L292.2,443.6 L293.2,447.1 L294.2,450.5 L295.2,453.8 L296.2,457.1 L297.2,460.4 L298.2,463.6 L299.2,466.7 L300.2,469.7 L301.2,472.7 L302.2,475.5 L303.2,478.3 L304.2,480.9 L305.2,483.5 L306.2,485.9 L307.2,488.2 L308.2,490.4 L309.2,492.5 L310.2,494.4 L311.2,496.3 L312.2,498.0 L313.2,499.6 L314.2,501.1 L315.2,502.4 L316.2,503.7 L317.2,504.8 L318.2,505.8 L319.2,506.8 L320.2,507.6 L321.2,508.4 L322.2,509.1 L323.2,509.7 L324.2,510.2 L325.2,510.7 L326.2,511.2 L327.2,511.5 L328.2,511.9 L329.2,512.2 L330.2,512.4 L331.2,512.7 L332.2,512.9 L333.2,513.1 L334.2,513.3 L335.2,513.4 L336.2,513.6 L337.2,513.7 L338.2,513.9 L339.2,514.0 L340.2,514.1 L341.2,514.2 L342.2,514.4 L343.2,514.5 L344.2,514.6 L345.2,514.7 L346.2,514.9 L347.2,515.0 L348.2,515.1 L349.2,515.3 L350.2,515.4 L351.2,515.6 L352.2,515.8 L353.2,516.0 L354.2,516.2 L355.2,516.4 L356.2,516.7 L357.2,516.9 L358.2,517.2 L359.2,517.4 L360.2,517.7 L361.2,518.0 L362.2,518.3 L363.2,518.7 L364.2,519.0 L365.2,519.3 L366.2,519.7 L367.2,520.0 L368.2,520.4 L369.2,520.7 L370.2,521.1 L371.2,521.5 L372.2,521.9 L373.2,522.3 L374.2,522.7 L375.2,523.1 L376.2,523.5 L377.2,523.9 L378.2,524.3 L379.2,524.7 L380.2,525.2 L381.2,525.6 L382.2,526.0 L383.2,526.4 L384.2,526.7 L385.2,527.1 L386.2,527.5 L387.2,527.8 L388.2,528.2 L389.2,528.5 L390.2,528.8 L391.2,529.1 L392.2,529.4 L393.2,529.7 L394.2,530.0 L395.2,530.2 L396.2,530.5 L397.2,530.7 L398.2,531.0 L399.2,531.2 L400.2,531.4 L401.2,531.7 L402.2,531.9 L403.2,532.1 L404.2,532.3 L405.2,532.4 L406.2,532.6 L407.2,532.8 L408.2,532.9 L409.2,533.1 L410.2,533.2 L411.2,533.4 L412.2,533.5 L413.2,533.6 L414.2,533.7 L415.2,533.8 L416.2,533.9 L417.2,534.0 L418.2,534.1 L419.2,534.2 L420.2,534.2 L421.2,534.3 L422.2,534.3 L423.2,534.4 L424.2,534.4 L425.2,534.5 L426.2,534.5 L427.2,534.5 L428.2,534.5 L429.2,534.5 L430.2,534.5 L431.2,534.5 L432.2,534.5 L433.2,534.5 L434.2,534.4 L435.2,534.4 L436.2,534.4 L437.2,534.3 L438.2,534.2 L439.2,534.2 L440.2,534.1 L441.2,534.0 L442.2,534.0 L443.2,533.9 L444.2,533.8 L445.2,533.7 L446.2,533.6 L447.2,533.5 L448.2,533.4 L449.2,533.2 L450.2,533.1 L451.2,533.0 L452.2,532.8 L453.2,532.7 L454.2,532.6 L455.2,532.4 L456.2,532.3 L457.2,532.1 L458.2,531.9 L459.2,531.8 L460.2,531.6 L461.2,531.4 L462.2,531.3 L463.2,531.1 L464.2,530.9 L465.2,530.7 L466.2,530.6 L467.2,530.4 L468.2,530.2 L469.2,530.0 L470.2,529.8 L471.2,529.7 L472.2,529.5 L473.2,529.3 L474.2,529.1 L475.2,528.9 L476.2,528.8 L477.2,528.6 L478.2,528.4 L479.2,528.2 L480.2,528.1 L481.2,527.9 L482.2,527.7 L483.2,527.5 L484.2,527.4 L485.2,527.2 L486.2,527.1 L487.2,526.9 L488.2,526.8 L489.2,526.6 L490.2,526.5 L491.2,526.3 L492.2,526.2 L493.2,526.1 L494.2,526.0 L495.2,525.8 L496.2,525.7 L497.2,525.6 L498.2,525.5 L499.2,525.4 L500.2,525.3 L501.2,525.2 L502.2,525.1 L503.2,525.0 L504.2,525.0 L505.2,524.9 L506.2,524.8 L507.2,524.8 L508.2,524.7 L509.2,524.6 L510.2,524.6 L511.2,524.5 L512.2,524.5 L513.2,524.4 L514.2,524.4 L515.2,524.3 L516.2,524.3 L517.2,524.3 L518.2,524.3 L519.2,524.2 L520.2,524.2 L521.2,524.2 L522.2,524.2 L523.2,524.2 L524.2,524.2 L525.2,524.2 L526.2,524.2 L527.2,524.2 L528.2,524.2 L529.2,524.2 L530.2,524.2 L531.2,524.2 L532.2,524.2 L533.2,524.2 L534.2,524.2 L535.2,524.3 L536.2,524.3 L537.2,524.3 L538.2,524.3 L539.2,524.4 L540.2,524.4 L541.2,524.4 L542.2,524.5 L543.2,524.5 L544.2,524.6 L545.2,524.6 L546.2,524.6 L547.2,524.7 L548.2,524.7 L549.2,524.8 L550.2,524.8 L551.2,524.9 L552.2,524.9 L553.2,525.0 L554.2,525.0 L555.2,525.1 L556.2,525.1 L557.2,525.1 L558.2,525.2 L559.2,525.2 L560.2,525.2 L561.2,525.3 L562.2,525.3 L563.2,525.3 L564.2,525.3 L565.2,525.3 L566.2,525.3 L567.2,525.3 L568.2,525.2 L569.2,525.2 L570.2,525.2 L571.2,525.2 L572.2,525.1 L573.2,525.1 L574.2,525.0 L575.2,525.0 L576.2,524.9 L577.2,524.9 L578.2,524.8 L579.2,524.8 L580.2,524.8 L581.2,524.7 L582.2,524.7 L583.2,524.7 L584.2,524.7 L585.2,524.7 L586.2,524.7 L587.2,524.7 L588.2,524.7 L589.2,524.8 L590.2,524.8 L591.2,524.9 L592.2,525.0 L593.2,525.1 L594.2,525.2 L595.2,525.3 L596.2,525.4 L597.2,525.5 L598.2,525.7 L599.2,525.8 L600.2,526.0 L601.2,526.1 L602.2,526.3 L603.2,526.5 L604.2,526.6 L605.2,526.8 L606.2,527.0 L607.2,527.2 L608.2,527.4 L609.2,527.5 L610.2,527.7 L611.2,527.9 L612.2,528.1 L613.2,528.3 L614.2,528.5 L615.2,528.6 L616.2,528.8 L617.2,529.0 L618.2,529.2 L619.2,529.3 L620.2,529.5 L621.2,529.6 L622.2,529.8 L623.2,529.9 L624.2,530.1 L625.2,530.2 L626.2,530.3 L627.2,530.4 L628.2,530.5 L629.2,530.6 L630.2,530.7 L631.2,530.7 L632.2,530.8 L633.2,530.8 L634.2,530.8 L635.2,530.8 L636.2,530.8 L637.2,530.8 L638.2,530.8 L639.2,530.8 L640.2,530.7 L641.2,530.7 L642.2,530.6 L643.2,530.5 L644.2,530.4 L645.2,530.3 L646.2,530.2 L647.2,530.1 L648.2,530.0 L649.2,529.9 L650.2,529.7 L651.2,529.5 L652.2,529.4 L653.2,529.2 L654.2,529.0 L655.2,528.8 L656.2,528.6 L657.2,528.4 L658.2,528.2 L659.2,528.0 L660.2,527.7 L661.2,527.5 L662.2,527.2 L663.2,527.0 L664.2,526.7 L665.2,526.4 L666.2,526.2 L667.2,525.9 L668.2,525.6 L669.2,525.3 L670.2,525.0 L671.2,524.7 L672.2,524.3 L673.2,524.0 L674.2,523.7 L675.2,523.4 L676.2,523.0 L677.2,522.7 L678.2,522.3 L679.2,522.0 L680.2,521.6 L681.2,521.2 L682.2,520.9 L683.2,520.5 L684.2,520.1 L685.2,519.8 L686.2,519.4 L687.2,519.0 L688.2,518.6 L689.2,518.2 L690.2,517.8 L691.2,517.4 L692.2,517.0 L693.2,516.6 L694.2,516.2 L695.2,515.8 L696.2,515.4 L697.2,515.0 L698.2,514.6 L699.2,514.2 L700.2,513.7 L701.2,513.3 L702.2,512.9 L703.2,512.5 L704.2,512.1 L705.2,511.7 L706.2,511.3 L707.2,510.8 L708.2,510.4 L709.2,510.0 L710.2,509.6 L711.2,509.2 L712.2,508.8 L713.2,508.3 L714.2,507.9 L715.2,507.5 L716.2,507.1 L717.2,506.7 L718.2,506.3 L719.2,505.9 L720.2,505.5 L721.2,505.1 L722.2,504.7 L723.2,504.3 L724.2,503.9 L725.2,503.5 L726.2,503.2 L727.2,502.8 L728.2,502.4 L729.2,502.0 L730.2,501.7 L731.2,501.3 L732.2,500.9 L733.2,500.6 L734.2,500.2 L735.2,499.9 L736.2,499.6 L737.2,499.2 L738.2,498.9 L739.2,498.6 L740.2,498.2 L741.2,497.9 L742.2,497.6 L743.2,497.3 L744.2,497.0 L745.2,496.7 L746.2,496.4 L747.2,496.1 L748.2,495.7 L749.2,495.5 L750.2,495.2 L751.2,494.9 L752.2,494.6 L753.2,494.3 L754.2,494.0 L755.2,493.7 L756.2,493.4 L757.2,493.1 L758.2,492.8 L759.2,492.5 L760.2,492.2 L761.2,491.9 L762.2,491.6 L763.2,491.3 L764.2,490.9 L765.2,490.6 L766.2,490.2 L767.2,489.9 L768.2,489.5 L769.2,489.1 L770.2,488.7 L771.2,488.3 L772.2,487.9 L773.2,487.4 L774.2,487.0 L775.2,486.5 L776.2,486.1 L777.2,485.6 L778.2,485.1 L779.2,484.6 L780.2,484.0 L781.2,483.5 L782.2,483.0 L783.2,482.4 L784.2,481.9 L785.2,481.3 L786.2,480.7 L787.2,480.1 L788.2,479.6 L789.2,479.0 L790.2,478.4 L791.2,477.8 L792.2,477.2 L793.2,476.6 L794.2,476.0 L795.2,475.5 L796.2,474.9 L797.2,474.3 L798.2,473.8 L799.2,473.2 L800.2,472.7 L801.2,472.1 L802.2,471.6 L803.2,471.1 L804.2,470.6 L805.2,470.1 L806.2,469.6 L807.2,469.2 L808.2,468.7 L809.2,468.3 L810.2,467.9 L811.2,467.5 L812.2,467.2 L812.9,466.9" stroke="#00aaaa" stroke-width="1.9"/>
<path d="M85.2,90.1 L86.2,90.8 L87.2,91.5 L88.2,92.2 L89.2,92.9 L90.2,93.6 L91.2,94.3 L92.2,95.0 L93.2,95.8 L94.2,96.5 L95.2,97.3 L96.2,98.0 L97.2,98.8 L98.2,99.6 L99.2,100.3 L100.2,101.1 L101.2,101.9 L102.2,102.7 L103.2,103.5 L104.2,104.3 L105.2,105.2 L106.2,106.0 L107.2,106.8 L108.2,107.7 L109.2,108.6 L110.2,109.4 L111.2,110.3 L112.2,111.2 L113.2,112.1 L114.2,113.0 L115.2,113.9 L116.2,114.8 L117.2,115.7 L118.2,116.7 L119.2,117.6 L120.2,118.6 L121.2,119.5 L122.2,120.5 L123.2,121.5 L124.2,122.5 L125.2,123.5 L126.2,124.5 L127.2,125.5 L128.2,126.6 L129.2,127.6 L130.2,128.7 L131.2,129.7 L132.2,130.8 L133.2,131.9 L134.2,133.0 L135.2,134.1 L136.2,135.2 L137.2,136.3 L138.2,137.4 L139.2,138.6 L140.2,139.7 L141.2,140.9 L142.2,142.1 L143.2,143.2 L144.2,144.4 L145.2,145.6 L146.2,146.9 L147.2,148.1 L148.2,149.3 L149.2,150.6 L150.2,151.8 L151.2,153.1 L152.2,154.4 L153.2,155.7 L154.2,157.0 L155.2,158.3 L156.2,159.6 L157.2,161.0 L158.2,162.3 L159.2,163.7 L160.2,165.1 L161.2,166.5 L162.2,167.9 L163.2,169.3 L164.2,170.7 L165.2,172.1 L166.2,173.6 L167.2,175.0 L168.2,176.5 L169.2,178.0 L170.2,179.5 L171.2,181.0 L172.2,182.5 L173.2,184.0 L174.2,185.6 L175.2,187.2 L176.2,188.7 L177.2,190.3 L178.2,191.9 L179.2,193.5 L180.2,195.2 L181.2,196.8 L182.2,198.4 L183.2,200.1 L184.2,201.8 L185.2,203.5 L186.2,205.2 L187.2,206.9 L188.2,208.6 L189.2,210.4 L190.2,212.1 L191.2,213.9 L192.2,215.7 L193.2,217.5 L194.2,219.3 L195.2,221.1 L196.2,223.0 L197.2,224.8 L198.2,226.7 L199.2,228.6 L200.2,230.5 L201.2,232.4 L202.2,234.3 L203.2,236.3 L204.2,238.3 L205.2,240.2 L206.2,242.2 L207.2,244.2 L208.2,246.2 L209.2,248.3 L210.2,250.3 L211.2,252.4 L212.2,254.5 L213.2,256.6 L214.2,258.7 L215.2,260.9 L216.2,263.0 L217.2,265.2 L218.2,267.4 L219.2,269.6 L220.2,271.8 L221.2,274.1 L222.2,276.4 L223.2,278.6 L224.2,281.0 L225.2,283.3 L226.2,285.6 L227.2,288.0 L228.2,290.4 L229.2,292.8 L230.2,295.2 L231.2,297.7 L232.2,300.2 L233.2,302.7 L234.2,305.2 L235.2,307.7 L236.2,310.3 L237.2,312.9 L238.2,315.5 L239.2,318.1 L240.2,320.8 L241.2,323.4 L242.2,326.1 L243.2,328.9 L244.2,331.6 L245.2,334.4 L246.2,337.2 L247.2,340.1 L248.2,342.9 L249.2,345.9 L250.2,348.8 L251.2,351.8 L252.2,354.8 L253.2,357.9 L254.2,361.0 L255.2,364.1 L256.2,367.3 L257.2,370.5 L258.2,373.8 L259.2,377.1 L260.2,380.5 L261.2,383.9 L262.2,387.3 L263.2,390.8 L264.2,394.4 L265.2,397.9 L266.2,401.5 L267.2,405.2 L268.2,408.8 L269.2,412.4 L270.2,416.1 L271.2,419.8 L272.2,423.4 L273.2,427.1 L274.2,430.7 L275.2,434.4 L276.2,438.0 L277.2,441.5 L278.2,445.1 L279.2,448.5 L280.2,452.0 L281.2,455.4 L282.2,458.7 L283.2,461.9 L284.2,465.1 L285.2,468.2 L286.2,471.2 L287.2,474.1 L288.2,476.9 L289.2,479.6 L290.2,482.2 L291.2,484.7 L292.2,487.1 L293.2,489.4 L294.2,491.5 L295.2,493.5 L296.2,495.5 L297.2,497.2 L298.2,498.9 L299.2,500.4 L300.2,501.7 L301.2,503.0 L302.2,504.1 L303.2,505.1 L304.2,506.0 L305.2,506.8 L306.2,507.5 L307.2,508.1 L308.2,508.7 L309.2,509.2 L310.2,509.6 L311.2,510.0 L312.2,510.4 L313.2,510.7 L314.2,511.0 L315.2,511.3 L316.2,511.5 L317.2,511.8 L318.2,512.0 L319.2,512.2 L320.2,512.4 L321.2,512.6 L322.2,512.7 L323.2,512.9 L324.2,513.1 L325.2,513.3 L326.2,513.5 L327.2,513.7 L328.2,513.9 L329.2,514.1 L330.2,514.3 L331.2,514.6 L332.2,514.8 L333.2,515.1 L334.2,515.4 L335.2,515.7 L336.2,516.0 L337.2,516.3 L338.2,516.6 L339.2,517.0 L340.2,517.3 L341.2,517.7 L342.2,518.0 L343.2,518.4 L344.2,518.8 L345.2,519.2 L346.2,519.6 L347.2,520.0 L348.2,520.4 L349.2,520.8 L350.2,521.3 L351.2,521.7 L352.2,522.2 L353.2,522.6 L354.2,523.1 L355.2,523.5 L356.2,524.0 L357.2,524.4 L358.2,524.9 L359.2,525.3 L360.2,525.8 L361.2,526.3 L362.2,526.7 L363.2,527.2 L364.2,527.6 L365.2,528.1 L366.2,528.6 L367.2,529.0 L368.2,529.4 L369.2,529.9 L370.2,530.3 L371.2,530.7 L372.2,531.2 L373.2,531.6 L374.2,532.0 L375.2,532.4 L376.2,532.8 L377.2,533.2 L378.2,533.5 L379.2,533.9 L380.2,534.2 L381.2,534.6 L382.2,534.9 L383.2,535.2 L384.2,535.5 L385.2,535.8 L386.2,536.1 L387.2,536.3 L388.2,536.6 L389.2,536.8 L390.2,537.0 L391.2,537.2 L392.2,537.4 L393.2,537.6 L394.2,537.8 L395.2,537.9 L396.2,538.1 L397.2,538.2 L398.2,538.3 L399.2,538.5 L400.2,538.6 L401.2,538.7 L402.2,538.8 L403.2,538.8 L404.2,538.9 L405.2,539.0 L406.2,539.0 L407.2,539.1 L408.2,539.1 L409.2,539.2 L410.2,539.2 L411.2,539.2 L412.2,539.2 L413.2,539.2 L414.2,539.2 L415.2,539.2 L416.2,539.2 L417.2,539.2 L418.2,539.2 L419.2,539.2 L420.2,539.1 L421.2,539.1 L422.2,539.1 L423.2,539.0 L424.2,539.0 L425.2,539.0 L426.2,538.9 L427.2,538.9 L428.2,538.8 L429.2,538.8 L430.2,538.7 L431.2,538.7 L432.2,538.6 L433.2,538.6 L434.2,538.5 L435.2,538.5 L436.2,538.4 L437.2,538.3 L438.2,538.3 L439.2,538.2 L440.2,538.1 L441.2,538.0 L442.2,538.0 L443.2,537.9 L444.2,537.8 L445.2,537.7 L446.2,537.6 L447.2,537.5 L448.2,537.4 L449.2,537.3 L450.2,537.2 L451.2,537.1 L452.2,537.0 L453.2,536.9 L454.2,536.7 L455.2,536.6 L456.2,536.5 L457.2,536.4 L458.2,536.2 L459.2,536.1 L460.2,535.9 L461.2,535.8 L462.2,535.6 L463.2,535.5 L464.2,535.3 L465.2,535.1 L466.2,534.9 L467.2,534.8 L468.2,534.6 L469.2,534.4 L470.2,534.2 L471.2,534.0 L472.2,533.8 L473.2,533.6 L474.2,533.4 L475.2,533.2 L476.2,533.0 L477.2,532.8 L478.2,532.6 L479.2,532.4 L480.2,532.2 L481.2,532.0 L482.2,531.8 L483.2,531.6 L484.2,531.5 L485.2,531.3 L486.2,531.1 L487.2,531.0 L488.2,530.8 L489.2,530.7 L490.2,530.6 L491.2,530.5 L492.2,530.3 L493.2,530.3 L494.2,530.2 L495.2,530.1 L496.2,530.0 L497.2,530.0 L498.2,530.0 L499.2,529.9 L500.2,529.9 L501.2,529.9 L502.2,529.9 L503.2,529.9 L504.2,529.9 L505.2,529.9 L506.2,529.9 L507.2,529.9 L508.2,529.9 L509.2,530.0 L510.2,530.0 L511.2,530.0 L512.2,530.1 L513.2,530.1 L514.2,530.2 L515.2,530.2 L516.2,530.3 L517.2,530.3 L518.2,530.4 L519.2,530.4 L520.2,530.5 L521.2,530.5 L522.2,530.6 L523.2,530.6 L524.2,530.7 L525.2,530.7 L526.2,530.8 L527.2,530.8 L528.2,530.9 L529.2,530.9 L530.2,531.0 L531.2,531.0 L532.2,531.1 L533.2,531.1 L534.2,531.1 L535.2,531.2 L536.2,531.2 L537.2,531.3 L538.2,531.3 L539.2,531.3 L540.2,531.4 L541.2,531.4 L542.2,531.5 L543.2,531.5 L544.2,531.5 L545.2,531.6 L546.2,531.6 L547.2,531.6 L548.2,531.7 L549.2,531.7 L550.2,531.7 L551.2,531.8 L552.2,531.8 L553.2,531.8 L554.2,531.8 L555.2,531.9 L556.2,531.9 L557.2,532.0 L558.2,532.0 L559.2,532.0 L560.2,532.1 L561.2,532.1 L562.2,532.1 L563.2,532.2 L564.2,532.2 L565.2,532.3 L566.2,532.3 L567.2,532.4 L568.2,532.4 L569.2,532.5 L570.2,532.6 L571.2,532.6 L572.2,532.7 L573.2,532.8 L574.2,532.8 L575.2,532.9 L576.2,533.0 L577.2,533.1 L578.2,533.2 L579.2,533.2 L580.2,533.3 L581.2,533.4 L582.2,533.6 L583.2,533.7 L584.2,533.8 L585.2,533.9 L586.2,534.0 L587.2,534.2 L588.2,534.3 L589.2,534.4 L590.2,534.6 L591.2,534.7 L592.2,534.9 L593.2,535.1 L594.2,535.2 L595.2,535.4 L596.2,535.6 L597.2,535.7 L598.2,535.9 L599.2,536.1 L600.2,536.2 L601.2,536.4 L602.2,536.6 L603.2,536.7 L604.2,536.9 L605.2,537.1 L606.2,537.2 L607.2,537.4 L608.2,537.5 L609.2,537.7 L610.2,537.8 L611.2,538.0 L612.2,538.1 L613.2,538.2 L614.2,538.3 L615.2,538.4 L616.2,538.5 L617.2,538.6 L618.2,538.7 L619.2,538.7 L620.2,538.8 L621.2,538.8 L622.2,538.8 L623.2,538.9 L624.2,538.9 L625.2,538.8 L626.2,538.8 L627.2,538.8 L628.2,538.7 L629.2,538.6 L630.2,538.5 L631.2,538.4 L632.2,538.3 L633.2,538.2 L634.2,538.0 L635.2,537.8 L636.2,537.6 L637.2,537.4 L638.2,537.2 L639.2,537.0 L640.2,536.8 L641.2,536.5 L642.2,536.3 L643.2,536.1 L644.2,535.8 L645.2,535.6 L646.2,535.3 L647.2,535.1 L648.2,534.9 L649.2,534.7 L650.2,534.4 L651.2,534.2 L652.2,534.0 L653.2,533.9 L654.2,533.7 L655.2,533.5 L656.2,533.4 L657.2,533.3 L658.2,533.1 L659.2,533.0 L660.2,532.9 L661.2,532.7 L662.2,532.5 L663.2,532.3 L664.2,532.1 L665.2,531.9 L666.2,531.6 L667.2,531.3 L668.2,531.0 L669.2,530.7 L670.2,530.3 L671.2,529.9 L672.2,529.5 L673.2,529.1 L674.2,528.7 L675.2,528.3 L676.2,527.8 L677.2,527.4 L678.2,526.9 L679.2,526.4 L680.2,525.9 L681.2,525.5 L682.2,525.0 L683.2,524.4 L684.2,523.9 L685.2,523.4 L686.2,522.9 L687.2,522.4 L688.2,521.9 L689.2,521.4 L690.2,520.9 L691.2,520.3 L692.2,519.8 L693.2,519.3 L694.2,518.8 L695.2,518.3 L696.2,517.8 L697.2,517.3 L698.2,516.8 L699.2,516.2 L700.2,515.7 L701.2,515.2 L702.2,514.7 L703.2,514.3 L704.2,513.8 L705.2,513.3 L706.2,512.8 L707.2,512.3 L708.2,511.9 L709.2,511.4 L710.2,510.9 L711.2,510.5 L712.2,510.0 L713.2,509.6 L714.2,509.1 L715.2,508.7 L716.2,508.3 L717.2,507.9 L718.2,507.5 L719.2,507.1 L720.2,506.7 L721.2,506.3 L722.2,505.9 L723.2,505.5 L724.2,505.2 L725.2,504.8 L726.2,504.5 L727.2,504.2 L728.2,503.9 L729.2,503.6 L730.2,503.3 L731.2,503.0 L732.2,502.7 L733.2,502.4 L734.2,502.2 L735.2,502.0 L736.2,501.7 L737.2,501.5 L738.2,501.3 L739.2,501.1 L740.2,500.9 L741.2,500.7 L742.2,500.5 L743.2,500.4 L744.2,500.2 L745.2,500.0 L746.2,499.8 L747.2,499.6 L748.2,499.4 L749.2,499.2 L750.2,499.0 L751.2,498.8 L752.2,498.6 L753.2,498.4 L754.2,498.1 L755.2,497.9 L756.2,497.6 L757.2,497.3 L758.2,497.0 L759.2,496.7 L760.2,496.4 L761.2,496.0 L762.2,495.6 L763.2,495.2 L764.2,494.8 L765.2,494.3 L766.2,493.9 L767.2,493.4 L768.2,492.9 L769.2,492.4 L770.2,491.8 L771.2,491.3 L772.2,490.7 L773.2,490.1 L774.2,489.6 L775.2,489.0 L776.2,488.4 L777.2,487.8 L778.2,487.2 L779.2,486.6 L780.2,486.0 L781.2,485.3 L782.2,484.7 L783.2,484.1 L784.2,483.5 L785.2,482.9 L786.2,482.3 L787.2,481.7 L788.2,481.1 L789.2,480.5 L790.2,479.9 L791.2,479.3 L792.2,478.7 L793.2,478.2 L794.2,477.6 L795.2,477.1 L796.2,476.5 L797.2,476.0 L798.2,475.5 L799.2,475.0 L800.2,474.5 L801.2,474.0 L802.2,473.5 L803.2,473.1 L804.2,472.6 L805.2,472.2 L806.2,471.8 L807.2,471.3 L808.2,470.9 L809.2,470.5 L810.2,470.1 L811.2,469.7 L812.2,469.4 L812.9,469.1" stroke="#000000" stroke-width="1.9"/>
<path d="M85.2,89.7 L86.2,90.4 L87.2,91.0 L88.2,91.7 L89.2,92.3 L90.2,93.0 L91.2,93.7 L92.2,94.4 L93.2,95.1 L94.2,95.8 L95.2,96.6 L96.2,97.3 L97.2,98.0 L98.2,98.8 L99.2,99.6 L100.2,100.3 L101.2,101.1 L102.2,101.9 L103.2,102.7 L104.2,103.5 L105.2,104.4 L106.2,105.2 L107.2,106.0 L108.2,106.9 L109.2,107.8 L110.2,108.6 L111.2,109.5 L112.2,110.4 L113.2,111.3 L114.2,112.2 L115.2,113.1 L116.2,114.1 L117.2,115.0 L118.2,115.9 L119.2,116.9 L120.2,117.9 L121.2,118.9 L122.2,119.8 L123.2,120.8 L124.2,121.8 L125.2,122.9 L126.2,123.9 L127.2,124.9 L128.2,126.0 L129.2,127.0 L130.2,128.1 L131.2,129.2 L132.2,130.3 L133.2,131.3 L134.2,132.4 L135.2,133.6 L136.2,134.7 L137.2,135.8 L138.2,137.0 L139.2,138.1 L140.2,139.3 L141.2,140.4 L142.2,141.6 L143.2,142.8 L144.2,144.0 L145.2,145.2 L146.2,146.4 L147.2,147.7 L148.2,148.9 L149.2,150.2 L150.2,151.4 L151.2,152.7 L152.2,154.0 L153.2,155.2 L154.2,156.5 L155.2,157.8 L156.2,159.2 L157.2,160.5 L158.2,161.8 L159.2,163.2 L160.2,164.5 L161.2,165.9 L162.2,167.2 L163.2,168.6 L164.2,170.0 L165.2,171.4 L166.2,172.8 L167.2,174.3 L168.2,175.7 L169.2,177.1 L170.2,178.6 L171.2,180.1 L172.2,181.5 L173.2,183.0 L174.2,184.5 L175.2,186.0 L176.2,187.6 L177.2,189.1 L178.2,190.7 L179.2,192.2 L180.2,193.8 L181.2,195.4 L182.2,197.0 L183.2,198.6 L184.2,200.3 L185.2,201.9 L186.2,203.6 L187.2,205.3 L188.2,207.0 L189.2,208.7 L190.2,210.4 L191.2,212.2 L192.2,214.0 L193.2,215.7 L194.2,217.6 L195.2,219.4 L196.2,221.2 L197.2,223.1 L198.2,224.9 L199.2,226.8 L200.2,228.7 L201.2,230.7 L202.2,232.6 L203.2,234.6 L204.2,236.6 L205.2,238.6 L206.2,240.6 L207.2,242.6 L208.2,244.7 L209.2,246.8 L210.2,248.8 L211.2,250.9 L212.2,253.1 L213.2,255.2 L214.2,257.3 L215.2,259.5 L216.2,261.6 L217.2,263.8 L218.2,266.0 L219.2,268.2 L220.2,270.4 L221.2,272.6 L222.2,274.9 L223.2,277.1 L224.2,279.4 L225.2,281.6 L226.2,283.9 L227.2,286.1 L228.2,288.4 L229.2,290.7 L230.2,293.0 L231.2,295.2 L232.2,297.5 L233.2,299.9 L234.2,302.2 L235.2,304.5 L236.2,306.9 L237.2,309.2 L238.2,311.6 L239.2,314.0 L240.2,316.4 L241.2,318.9 L242.2,321.3 L243.2,323.8 L244.2,326.3 L245.2,328.8 L246.2,331.4 L247.2,333.9 L248.2,336.5 L249.2,339.2 L250.2,341.8 L251.2,344.5 L252.2,347.2 L253.2,350.0 L254.2,352.8 L255.2,355.6 L256.2,358.5 L257.2,361.4 L258.2,364.3 L259.2,367.3 L260.2,370.3 L261.2,373.4 L262.2,376.5 L263.2,379.6 L264.2,382.8 L265.2,386.1 L266.2,389.3 L267.2,392.6 L268.2,396.0 L269.2,399.3 L270.2,402.6 L271.2,406.0 L272.2,409.3 L273.2,412.6 L274.2,415.9 L275.2,419.1 L276.2,422.3 L277.2,425.5 L278.2,428.6 L279.2,431.7 L280.2,434.6 L281.2,437.5 L282.2,440.4 L283.2,443.1 L284.2,445.7 L285.2,448.2 L286.2,450.6 L287.2,452.9 L288.2,455.0 L289.2,457.1 L290.2,458.9 L291.2,460.7 L292.2,462.3 L293.2,463.8 L294.2,465.2 L295.2,466.4 L296.2,467.6 L297.2,468.6 L298.2,469.6 L299.2,470.4 L300.2,471.1 L301.2,471.8 L302.2,472.3 L303.2,472.8 L304.2,473.2 L305.2,473.5 L306.2,473.7 L307.2,473.9 L308.2,474.0 L309.2,474.1 L310.2,474.1 L311.2,474.0 L312.2,473.9 L313.2,473.7 L314.2,473.5 L315.2,473.3 L316.2,473.0 L317.2,472.7 L318.2,472.3 L319.2,472.0 L320.2,471.6 L321.2,471.2 L322.2,470.8 L323.2,470.3 L324.2,469.9 L325.2,469.4 L326.2,468.9 L327.2,468.3 L328.2,467.7 L329.2,467.1 L330.2,466.5 L331.2,465.9 L332.2,465.2 L333.2,464.5 L334.2,463.8 L335.2,463.2 L336.2,462.5 L337.2,461.8 L338.2,461.2 L339.2,460.6 L340.2,460.0 L341.2,459.4 L342.2,458.9 L343.2,458.3 L344.2,457.8 L345.2,457.3 L346.2,456.8 L347.2,456.3 L348.2,455.8 L349.2,455.4 L350.2,454.9 L351.2,454.5 L352.2,454.1 L353.2,453.6 L354.2,453.2 L355.2,452.8 L356.2,452.4 L357.2,452.0 L358.2,451.6 L359.2,451.2 L360.2,450.8 L361.2,450.4 L362.2,450.0 L363.2,449.6 L364.2,449.2 L365.2,448.8 L366.2,448.4 L367.2,448.0 L368.2,447.6 L369.2,447.3 L370.2,446.9 L371.2,446.5 L372.2,446.1 L373.2,445.7 L374.2,445.4 L375.2,445.0 L376.2,444.6 L377.2,444.2 L378.2,443.9 L379.2,443.5 L380.2,443.1 L381.2,442.8 L382.2,442.4 L383.2,442.0 L384.2,441.7 L385.2,441.3 L386.2,440.9 L387.2,440.5 L388.2,440.2 L389.2,439.8 L390.2,439.4 L391.2,439.1 L392.2,438.7 L393.2,438.3 L394.2,438.0 L395.2,437.6 L396.2,437.2 L397.2,436.9 L398.2,436.5 L399.2,436.2 L400.2,435.8 L401.2,435.5 L402.2,435.1 L403.2,434.8 L404.2,434.4 L405.2,434.1 L406.2,433.7 L407.2,433.4 L408.2,433.1 L409.2,432.7 L410.2,432.4 L411.2,432.1 L412.2,431.8 L413.2,431.5 L414.2,431.2 L415.2,430.9 L416.2,430.6 L417.2,430.3 L418.2,430.0 L419.2,429.7 L420.2,429.4 L421.2,429.1 L422.2,428.9 L423.2,428.6 L424.2,428.4 L425.2,428.1 L426.2,427.9 L427.2,427.6 L428.2,427.4 L429.2,427.1 L430.2,426.9 L431.2,426.7 L432.2,426.5 L433.2,426.2 L434.2,426.0 L435.2,425.8 L436.2,425.6 L437.2,425.4 L438.2,425.2 L439.2,425.0 L440.2,424.8 L441.2,424.6 L442.2,424.4 L443.2,424.2 L444.2,424.0 L445.2,423.8 L446.2,423.7 L447.2,423.5 L448.2,423.3 L449.2,423.1 L450.2,422.9 L451.2,422.8 L452.2,422.6 L453.2,422.4 L454.2,422.2 L455.2,422.1 L456.2,421.9 L457.2,421.7 L458.2,421.6 L459.2,421.4 L460.2,421.2 L461.2,421.0 L462.2,420.9 L463.2,420.7 L464.2,420.5 L465.2,420.4 L466.2,420.2 L467.2,420.0 L468.2,419.9 L469.2,419.7 L470.2,419.5 L471.2,419.4 L472.2,419.2 L473.2,419.0 L474.2,418.9 L475.2,418.7 L476.2,418.5 L477.2,418.4 L478.2,418.2 L479.2,418.1 L480.2,417.9 L481.2,417.7 L482.2,417.6 L483.2,417.4 L484.2,417.3 L485.2,417.1 L486.2,417.0 L487.2,416.8 L488.2,416.7 L489.2,416.5 L490.2,416.4 L491.2,416.2 L492.2,416.1 L493.2,415.9 L494.2,415.8 L495.2,415.6 L496.2,415.5 L497.2,415.3 L498.2,415.2 L499.2,415.1 L500.2,414.9 L501.2,414.8 L502.2,414.6 L503.2,414.5 L504.2,414.4 L505.2,414.2 L506.2,414.1 L507.2,414.0 L508.2,413.9 L509.2,413.7 L510.2,413.6 L511.2,413.5 L512.2,413.4 L513.2,413.2 L514.2,413.1 L515.2,413.0 L516.2,412.9 L517.2,412.8 L518.2,412.7 L519.2,412.6 L520.2,412.5 L521.2,412.3 L522.2,412.2 L523.2,412.1 L524.2,412.0 L525.2,411.9 L526.2,411.8 L527.2,411.8 L528.2,411.7 L529.2,411.6 L530.2,411.5 L531.2,411.4 L532.2,411.3 L533.2,411.2 L534.2,411.1 L535.2,411.0 L536.2,411.0 L537.2,410.9 L538.2,410.8 L539.2,410.7 L540.2,410.7 L541.2,410.6 L542.2,410.5 L543.2,410.4 L544.2,410.4 L545.2,410.3 L546.2,410.2 L547.2,410.2 L548.2,410.1 L549.2,410.1 L550.2,410.0 L551.2,409.9 L552.2,409.9 L553.2,409.8 L554.2,409.8 L555.2,409.7 L556.2,409.7 L557.2,409.6 L558.2,409.6 L559.2,409.5 L560.2,409.5 L561.2,409.4 L562.2,409.4 L563.2,409.3 L564.2,409.3 L565.2,409.2 L566.2,409.2 L567.2,409.2 L568.2,409.1 L569.2,409.1 L570.2,409.0 L571.2,409.0 L572.2,409.0 L573.2,408.9 L574.2,408.9 L575.2,408.9 L576.2,408.8 L577.2,408.8 L578.2,408.8 L579.2,408.7 L580.2,408.7 L581.2,408.7 L582.2,408.7 L583.2,408.6 L584.2,408.6 L585.2,408.6 L586.2,408.6 L587.2,408.5 L588.2,408.5 L589.2,408.5 L590.2,408.5 L591.2,408.5 L592.2,408.4 L593.2,408.4 L594.2,408.4 L595.2,408.4 L596.2,408.4 L597.2,408.3 L598.2,408.3 L599.2,408.3 L600.2,408.3 L601.2,408.3 L602.2,408.3 L603.2,408.3 L604.2,408.2 L605.2,408.2 L606.2,408.2 L607.2,408.2 L608.2,408.2 L609.2,408.2 L610.2,408.2 L611.2,408.2 L612.2,408.2 L613.2,408.2 L614.2,408.1 L615.2,408.1 L616.2,408.1 L617.2,408.1 L618.2,408.1 L619.2,408.1 L620.2,408.1 L621.2,408.1 L622.2,408.1 L623.2,408.1 L624.2,408.1 L625.2,408.1 L626.2,408.1 L627.2,408.1 L628.2,408.1 L629.2,408.1 L630.2,408.1 L631.2,408.1 L632.2,408.0 L633.2,408.0 L634.2,408.0 L635.2,408.0 L636.2,408.0 L637.2,408.0 L638.2,408.0 L639.2,408.0 L640.2,408.0 L641.2,408.0 L642.2,408.0 L643.2,408.0 L644.2,408.0 L645.2,408.0 L646.2,408.0 L647.2,408.0 L648.2,408.0 L649.2,408.0 L650.2,408.0 L651.2,408.0 L652.2,408.0 L653.2,408.0 L654.2,408.0 L655.2,408.0 L656.2,408.0 L657.2,408.0 L658.2,407.9 L659.2,407.9 L660.2,407.9 L661.2,407.9 L662.2,407.9 L663.2,407.9 L664.2,407.9 L665.2,407.9 L666.2,407.9 L667.2,407.9 L668.2,407.9 L669.2,407.9 L670.2,407.9 L671.2,407.9 L672.2,407.8 L673.2,407.8 L674.2,407.8 L675.2,407.8 L676.2,407.8 L677.2,407.8 L678.2,407.8 L679.2,407.8 L680.2,407.7 L681.2,407.7 L682.2,407.7 L683.2,407.7 L684.2,407.7 L685.2,407.7 L686.2,407.7 L687.2,407.6 L688.2,407.6 L689.2,407.6 L690.2,407.6 L691.2,407.6 L692.2,407.6 L693.2,407.5 L694.2,407.5 L695.2,407.5 L696.2,407.5 L697.2,407.5 L698.2,407.4 L699.2,407.4 L700.2,407.4 L701.2,407.4 L702.2,407.4 L703.2,407.3 L704.2,407.3 L705.2,407.3 L706.2,407.3 L707.2,407.3 L708.2,407.2 L709.2,407.2 L710.2,407.2 L711.2,407.2 L712.2,407.2 L713.2,407.2 L714.2,407.1 L715.2,407.1 L716.2,407.1 L717.2,407.1 L718.2,407.1 L719.2,407.1 L720.2,407.0 L721.2,407.0 L722.2,407.0 L723.2,407.0 L724.2,407.0 L725.2,407.0 L726.2,407.0 L727.2,407.0 L728.2,407.0 L729.2,406.9 L730.2,406.9 L731.2,406.9 L732.2,406.9 L733.2,406.9 L734.2,406.9 L735.2,406.9 L736.2,406.9 L737.2,406.9 L738.2,406.9 L739.2,406.9 L740.2,406.9 L741.2,406.9 L742.2,406.9 L743.2,406.9 L744.2,406.9 L745.2,406.9 L746.2,406.9 L747.2,406.9 L748.2,406.8 L749.2,406.8 L750.2,406.8 L751.2,406.8 L752.2,406.8 L753.2,406.8 L754.2,406.8 L755.2,406.7 L756.2,406.7 L757.2,406.7 L758.2,406.7 L759.2,406.6 L760.2,406.6 L761.2,406.6 L762.2,406.5 L763.2,406.5 L764.2,406.4 L765.2,406.4 L766.2,406.3 L767.2,406.3 L768.2,406.2 L769.2,406.1 L770.2,406.1 L771.2,406.0 L772.2,405.9 L773.2,405.8 L774.2,405.8 L775.2,405.7 L776.2,405.6 L777.2,405.5 L778.2,405.4 L779.2,405.2 L780.2,405.1 L781.2,405.0 L782.2,404.9 L783.2,404.7 L784.2,404.6 L785.2,404.5 L786.2,404.3 L787.2,404.2 L788.2,404.0 L789.2,403.9 L790.2,403.7 L791.2,403.5 L792.2,403.4 L793.2,403.2 L794.2,403.1 L795.2,402.9 L796.2,402.7 L797.2,402.6 L798.2,402.4 L799.2,402.3 L800.2,402.1 L801.2,402.0 L802.2,401.8 L803.2,401.7 L804.2,401.6 L805.2,401.4 L806.2,401.3 L807.2,401.2 L808.2,401.1 L809.2,401.0 L810.2,400.9 L811.2,400.9 L812.2,400.8 L812.9,400.8" stroke="#000000" stroke-width="1.9" stroke-dasharray="8.4 4.2"/>
</g>
<g stroke="#000" stroke-width="2.1" fill="none" stroke-linecap="butt">
<line x1="70.0" y1="560.0" x2="827.7" y2="560.0"/>
<line x1="85.15" y1="3.0" x2="85.15" y2="571.3"/>
<line x1="94.85" y1="560.0" x2="94.85" y2="556.00"/>
<line x1="114.24" y1="560.0" x2="114.24" y2="556.00"/>
<line x1="133.63" y1="560.0" x2="133.63" y2="552.60"/>
<line x1="153.02" y1="560.0" x2="153.02" y2="556.00"/>
<line x1="172.41" y1="560.0" x2="172.41" y2="556.00"/>
<line x1="191.81" y1="560.0" x2="191.81" y2="556.00"/>
<line x1="211.20" y1="560.0" x2="211.20" y2="556.00"/>
<line x1="230.59" y1="560.0" x2="230.59" y2="552.60"/>
<line x1="249.98" y1="560.0" x2="249.98" y2="556.00"/>
<line x1="269.37" y1="560.0" x2="269.37" y2="556.00"/>
<line x1="288.77" y1="560.0" x2="288.77" y2="556.00"/>
<line x1="308.16" y1="560.0" x2="308.16" y2="556.00"/>
<line x1="327.55" y1="560.0" x2="327.55" y2="552.60"/>
<line x1="346.94" y1="560.0" x2="346.94" y2="556.00"/>
<line x1="366.33" y1="560.0" x2="366.33" y2="556.00"/>
<line x1="385.73" y1="560.0" x2="385.73" y2="556.00"/>
<line x1="405.12" y1="560.0" x2="405.12" y2="556.00"/>
<line x1="424.51" y1="560.0" x2="424.51" y2="552.60"/>
<line x1="443.90" y1="560.0" x2="443.90" y2="556.00"/>
<line x1="463.29" y1="560.0" x2="463.29" y2="556.00"/>
<line x1="482.69" y1="560.0" x2="482.69" y2="556.00"/>
<line x1="502.08" y1="560.0" x2="502.08" y2="556.00"/>
<line x1="521.47" y1="560.0" x2="521.47" y2="552.60"/>
<line x1="540.86" y1="560.0" x2="540.86" y2="556.00"/>
<line x1="560.25" y1="560.0" x2="560.25" y2="556.00"/>
<line x1="579.65" y1="560.0" x2="579.65" y2="556.00"/>
<line x1="599.04" y1="560.0" x2="599.04" y2="556.00"/>
<line x1="618.43" y1="560.0" x2="618.43" y2="552.60"/>
<line x1="637.82" y1="560.0" x2="637.82" y2="556.00"/>
<line x1="657.21" y1="560.0" x2="657.21" y2="556.00"/>
<line x1="676.61" y1="560.0" x2="676.61" y2="556.00"/>
<line x1="696.00" y1="560.0" x2="696.00" y2="556.00"/>
<line x1="715.39" y1="560.0" x2="715.39" y2="552.60"/>
<line x1="734.78" y1="560.0" x2="734.78" y2="556.00"/>
<line x1="754.17" y1="560.0" x2="754.17" y2="556.00"/>
<line x1="773.57" y1="560.0" x2="773.57" y2="556.00"/>
<line x1="792.96" y1="560.0" x2="792.96" y2="556.00"/>
<line x1="812.35" y1="560.0" x2="812.35" y2="552.60"/>
<line x1="85.15" y1="26.60" x2="92.55" y2="26.60"/>
<line x1="85.15" y1="111.28" x2="92.55" y2="111.28"/>
<line x1="85.15" y1="85.79" x2="89.15" y2="85.79"/>
<line x1="85.15" y1="70.88" x2="89.15" y2="70.88"/>
<line x1="85.15" y1="60.30" x2="89.15" y2="60.30"/>
<line x1="85.15" y1="52.09" x2="89.15" y2="52.09"/>
<line x1="85.15" y1="45.39" x2="89.15" y2="45.39"/>
<line x1="85.15" y1="39.72" x2="89.15" y2="39.72"/>
<line x1="85.15" y1="34.81" x2="89.15" y2="34.81"/>
<line x1="85.15" y1="30.47" x2="89.15" y2="30.47"/>
<line x1="85.15" y1="195.96" x2="92.55" y2="195.96"/>
<line x1="85.15" y1="170.47" x2="89.15" y2="170.47"/>
<line x1="85.15" y1="155.56" x2="89.15" y2="155.56"/>
<line x1="85.15" y1="144.98" x2="89.15" y2="144.98"/>
<line x1="85.15" y1="136.77" x2="89.15" y2="136.77"/>
<line x1="85.15" y1="130.07" x2="89.15" y2="130.07"/>
<line x1="85.15" y1="124.40" x2="89.15" y2="124.40"/>
<line x1="85.15" y1="119.49" x2="89.15" y2="119.49"/>
<line x1="85.15" y1="115.15" x2="89.15" y2="115.15"/>
<line x1="85.15" y1="280.64" x2="92.55" y2="280.64"/>
<line x1="85.15" y1="255.15" x2="89.15" y2="255.15"/>
<line x1="85.15" y1="240.24" x2="89.15" y2="240.24"/>
<line x1="85.15" y1="229.66" x2="89.15" y2="229.66"/>
<line x1="85.15" y1="221.45" x2="89.15" y2="221.45"/>
<line x1="85.15" y1="214.75" x2="89.15" y2="214.75"/>
<line x1="85.15" y1="209.08" x2="89.15" y2="209.08"/>
<line x1="85.15" y1="204.17" x2="89.15" y2="204.17"/>
<line x1="85.15" y1="199.83" x2="89.15" y2="199.83"/>
<line x1="85.15" y1="365.32" x2="92.55" y2="365.32"/>
<line x1="85.15" y1="339.83" x2="89.15" y2="339.83"/>
<line x1="85.15" y1="324.92" x2="89.15" y2="324.92"/>
<line x1="85.15" y1="314.34" x2="89.15" y2="314.34"/>
<line x1="85.15" y1="306.13" x2="89.15" y2="306.13"/>
<line x1="85.15" y1="299.43" x2="89.15" y2="299.43"/>
<line x1="85.15" y1="293.76" x2="89.15" y2="293.76"/>
<line x1="85.15" y1="288.85" x2="89.15" y2="288.85"/>
<line x1="85.15" y1="284.51" x2="89.15" y2="284.51"/>
<line x1="85.15" y1="450.00" x2="92.55" y2="450.00"/>
<line x1="85.15" y1="424.51" x2="89.15" y2="424.51"/>
<line x1="85.15" y1="409.60" x2="89.15" y2="409.60"/>
<line x1="85.15" y1="399.02" x2="89.15" y2="399.02"/>
<line x1="85.15" y1="390.81" x2="89.15" y2="390.81"/>
<line x1="85.15" y1="384.11" x2="89.15" y2="384.11"/>
<line x1="85.15" y1="378.44" x2="89.15" y2="378.44"/>
<line x1="85.15" y1="373.53" x2="89.15" y2="373.53"/>
<line x1="85.15" y1="369.19" x2="89.15" y2="369.19"/>
<line x1="85.15" y1="534.68" x2="92.55" y2="534.68"/>
<line x1="85.15" y1="509.19" x2="89.15" y2="509.19"/>
<line x1="85.15" y1="494.28" x2="89.15" y2="494.28"/>
<line x1="85.15" y1="483.70" x2="89.15" y2="483.70"/>
<line x1="85.15" y1="475.49" x2="89.15" y2="475.49"/>
<line x1="85.15" y1="468.79" x2="89.15" y2="468.79"/>
<line x1="85.15" y1="463.12" x2="89.15" y2="463.12"/>
<line x1="85.15" y1="458.21" x2="89.15" y2="458.21"/>
<line x1="85.15" y1="453.87" x2="89.15" y2="453.87"/>
<line x1="85.15" y1="568.38" x2="89.15" y2="568.38"/>
<line x1="85.15" y1="553.47" x2="89.15" y2="553.47"/>
<line x1="85.15" y1="547.80" x2="89.15" y2="547.80"/>
<line x1="85.15" y1="542.89" x2="89.15" y2="542.89"/>
<line x1="85.15" y1="538.55" x2="89.15" y2="538.55"/>
</g>
<g font-family="Liberation Sans, sans-serif" fill="#000" stroke="#000" stroke-width="0.3">
<text x="114.97" y="583.80" font-size="22.0">−</text><text x="127.82" y="583.80" font-size="22.0">2</text><text x="140.05" y="583.80" font-size="22.0">0</text>
<text x="211.93" y="583.80" font-size="22.0">−</text><path transform="translate(224.78,583.80) scale(0.01074,-0.01074)" d="M763,0 H583 V1147 Q518,1085 412.5,1023 Q307,961 223,930 V1104 Q374,1175 487,1276 Q600,1377 647,1472 H763 Z" stroke-width="27.9"/><text x="237.01" y="583.80" font-size="22.0">0</text>
<text x="324.73" y="583.80" font-size="22.0">0</text>
<path transform="translate(412.28,583.80) scale(0.01074,-0.01074)" d="M763,0 H583 V1147 Q518,1085 412.5,1023 Q307,961 223,930 V1104 Q374,1175 487,1276 Q600,1377 647,1472 H763 Z" stroke-width="27.9"/><text x="424.51" y="583.80" font-size="22.0">0</text>
<text x="509.24" y="583.80" font-size="22.0">2</text><text x="521.47" y="583.80" font-size="22.0">0</text>
<text x="606.20" y="583.80" font-size="22.0">3</text><text x="618.43" y="583.80" font-size="22.0">0</text>
<text x="703.16" y="583.80" font-size="22.0">4</text><text x="715.39" y="583.80" font-size="22.0">0</text>
<text x="800.12" y="583.80" font-size="22.0">5</text><text x="812.35" y="583.80" font-size="22.0">0</text>
<path transform="translate(47.34,34.30) scale(0.01074,-0.01074)" d="M763,0 H583 V1147 Q518,1085 412.5,1023 Q307,961 223,930 V1104 Q374,1175 487,1276 Q600,1377 647,1472 H763 Z" stroke-width="27.9"/><text x="59.57" y="34.30" font-size="22.0">0</text>
<text x="72.40" y="25.80" font-size="15.4">0</text>
<path transform="translate(38.44,118.98) scale(0.01074,-0.01074)" d="M763,0 H583 V1147 Q518,1085 412.5,1023 Q307,961 223,930 V1104 Q374,1175 487,1276 Q600,1377 647,1472 H763 Z" stroke-width="27.9"/><text x="50.67" y="118.98" font-size="22.0">0</text>
<text x="63.50" y="110.48" font-size="15.4">−</text><path transform="translate(72.49,110.48) scale(0.00752,-0.00752)" d="M763,0 H583 V1147 Q518,1085 412.5,1023 Q307,961 223,930 V1104 Q374,1175 487,1276 Q600,1377 647,1472 H763 Z" stroke-width="39.9"/>
<path transform="translate(38.44,203.66) scale(0.01074,-0.01074)" d="M763,0 H583 V1147 Q518,1085 412.5,1023 Q307,961 223,930 V1104 Q374,1175 487,1276 Q600,1377 647,1472 H763 Z" stroke-width="27.9"/><text x="50.67" y="203.66" font-size="22.0">0</text>
<text x="63.50" y="195.16" font-size="15.4">−</text><text x="72.49" y="195.16" font-size="15.4">2</text>
<path transform="translate(38.44,288.34) scale(0.01074,-0.01074)" d="M763,0 H583 V1147 Q518,1085 412.5,1023 Q307,961 223,930 V1104 Q374,1175 487,1276 Q600,1377 647,1472 H763 Z" stroke-width="27.9"/><text x="50.67" y="288.34" font-size="22.0">0</text>
<text x="63.50" y="279.84" font-size="15.4">−</text><text x="72.49" y="279.84" font-size="15.4">3</text>
<path transform="translate(38.44,373.02) scale(0.01074,-0.01074)" d="M763,0 H583 V1147 Q518,1085 412.5,1023 Q307,961 223,930 V1104 Q374,1175 487,1276 Q600,1377 647,1472 H763 Z" stroke-width="27.9"/><text x="50.67" y="373.02" font-size="22.0">0</text>
<text x="63.50" y="364.52" font-size="15.4">−</text><text x="72.49" y="364.52" font-size="15.4">4</text>
<path transform="translate(38.44,457.70) scale(0.01074,-0.01074)" d="M763,0 H583 V1147 Q518,1085 412.5,1023 Q307,961 223,930 V1104 Q374,1175 487,1276 Q600,1377 647,1472 H763 Z" stroke-width="27.9"/><text x="50.67" y="457.70" font-size="22.0">0</text>
<text x="63.50" y="449.20" font-size="15.4">−</text><text x="72.49" y="449.20" font-size="15.4">5</text>
<path transform="translate(38.44,542.38) scale(0.01074,-0.01074)" d="M763,0 H583 V1147 Q518,1085 412.5,1023 Q307,961 223,930 V1104 Q374,1175 487,1276 Q600,1377 647,1472 H763 Z" stroke-width="27.9"/><text x="50.67" y="542.38" font-size="22.0">0</text>
<text x="63.50" y="533.88" font-size="15.4">−</text><text x="72.49" y="533.88" font-size="15.4">6</text>
<line x1="637.2" y1="24.95" x2="714.1" y2="24.95" stroke="#0000ff" stroke-width="1.7"/>
<text x="725.9000000000001" y="29.15" font-size="22.3" font-style="italic">N</text>
<text x="747.50" y="29.15" font-size="22.3">=</text><text x="766.72" y="29.15" font-size="22.3">0</text>
<path d="M784.00,20.95 L784.00,26.95 M780.61,22.22 L787.39,25.68 M787.39,22.22 L780.61,25.68" stroke="#000" stroke-width="1.5" fill="none" stroke-linecap="round"/>
<line x1="637.2" y1="62.25" x2="714.1" y2="62.25" stroke="#ff0000" stroke-width="1.7"/>
<text x="725.9000000000001" y="66.45" font-size="22.3" font-style="italic">N</text>
<text x="747.50" y="66.45" font-size="22.3">=</text><path transform="translate(766.72,66.45) scale(0.01089,-0.01089)" d="M763,0 H583 V1147 Q518,1085 412.5,1023 Q307,961 223,930 V1104 Q374,1175 487,1276 Q600,1377 647,1472 H763 Z" stroke-width="27.6"/>
<path d="M784.00,58.25 L784.00,64.25 M780.61,59.52 L787.39,62.98 M787.39,59.52 L780.61,62.98" stroke="#000" stroke-width="1.5" fill="none" stroke-linecap="round"/>
<line x1="637.2" y1="99.55" x2="714.1" y2="99.55" stroke="#00aa00" stroke-width="1.7"/>
<text x="725.9000000000001" y="103.75" font-size="22.3" font-style="italic">N</text>
<text x="747.50" y="103.75" font-size="22.3">=</text><text x="766.72" y="103.75" font-size="22.3">2</text>
<path d="M784.00,95.55 L784.00,101.55 M780.61,96.82 L787.39,100.28 M787.39,96.82 L780.61,100.28" stroke="#000" stroke-width="1.5" fill="none" stroke-linecap="round"/>
<line x1="637.2" y1="136.85" x2="714.1" y2="136.85" stroke="#800080" stroke-width="1.7"/>
<text x="725.9000000000001" y="141.05" font-size="22.3" font-style="italic">N</text>
<text x="747.50" y="141.05" font-size="22.3">=</text><text x="766.72" y="141.05" font-size="22.3">3</text>
<path d="M784.00,132.85 L784.00,138.85 M780.61,134.12 L787.39,137.58 M787.39,134.12 L780.61,137.58" stroke="#000" stroke-width="1.5" fill="none" stroke-linecap="round"/>
<line x1="637.2" y1="174.15" x2="714.1" y2="174.15" stroke="#ff8000" stroke-width="1.7"/>
<text x="725.9000000000001" y="178.35" font-size="22.3" font-style="italic">N</text>
<text x="747.50" y="178.35" font-size="22.3">=</text><text x="766.72" y="178.35" font-size="22.3">4</text>
<path d="M784.00,170.15 L784.00,176.15 M780.61,171.42 L787.39,174.88 M787.39,171.42 L780.61,174.88" stroke="#000" stroke-width="1.5" fill="none" stroke-linecap="round"/>
<line x1="637.2" y1="211.45" x2="714.1" y2="211.45" stroke="#0000aa" stroke-width="1.7"/>
<text x="725.9000000000001" y="215.65" font-size="22.3" font-style="italic">N</text>
<text x="747.50" y="215.65" font-size="22.3">=</text><text x="766.72" y="215.65" font-size="22.3">5</text>
<path d="M784.00,207.45 L784.00,213.45 M780.61,208.72 L787.39,212.18 M787.39,208.72 L780.61,212.18" stroke="#000" stroke-width="1.5" fill="none" stroke-linecap="round"/>
<line x1="637.2" y1="248.75" x2="714.1" y2="248.75" stroke="#00aaaa" stroke-width="1.7"/>
<text x="725.9000000000001" y="252.95" font-size="22.3" font-style="italic">N</text>
<text x="747.50" y="252.95" font-size="22.3">=</text><text x="766.72" y="252.95" font-size="22.3">6</text>
<path d="M784.00,244.75 L784.00,250.75 M780.61,246.02 L787.39,249.48 M787.39,246.02 L780.61,249.48" stroke="#000" stroke-width="1.5" fill="none" stroke-linecap="round"/>
<line x1="637.2" y1="286.05" x2="714.1" y2="286.05" stroke="#000000" stroke-width="1.7"/>
<text x="725.9000000000001" y="290.25" font-size="22.3" font-style="italic">N</text>
<text x="747.50" y="290.25" font-size="22.3">=</text><text x="766.72" y="290.25" font-size="22.3">7</text>
<path d="M784.00,282.05 L784.00,288.05 M780.61,283.32 L787.39,286.78 M787.39,283.32 L780.61,286.78" stroke="#000" stroke-width="1.5" fill="none" stroke-linecap="round"/>
<line x1="637.2" y1="323.35" x2="714.1" y2="323.35" stroke="#000000" stroke-width="1.7" stroke-dasharray="5.6 2.34"/>
<text x="725.9000000000001" y="327.55" font-size="22.3" font-style="italic">N</text>
<text x="747.50" y="327.55" font-size="22.3">=</text><text x="766.72" y="327.55" font-size="22.3">7</text>
<path d="M370.0,594.3 L366.50,604.90 Q365.10,609.80 368.60,609.70 Q371.20,609.60 373.20,608.50 M363.00,598.50 H374.80" fill="none" stroke="#000" stroke-width="1.45" stroke-linecap="butt" stroke-linejoin="round"/>
<circle cx="379.6" cy="601.9" r="1.15" fill="#000" stroke="none"/>
<path d="M375.3,605.8 H379.7 V614.2" fill="none" stroke="#000" stroke-width="1.5" stroke-linejoin="miter"/>
<line x1="388.1" y1="604.3" x2="398.9" y2="604.3" stroke="#000" stroke-width="1.0"/>
<path d="M413.0,594.3 L409.50,604.90 Q408.10,609.80 411.60,609.70 Q414.20,609.60 416.20,608.50 M406.00,598.50 H417.80" fill="none" stroke="#000" stroke-width="1.45" stroke-linecap="butt" stroke-linejoin="round"/>
<text transform="translate(417.0,614.2) scale(1.125,1)" font-size="18" stroke="none">peak</text>
<path d="M474,594.4 H469.7 V614.9 H474" fill="none" stroke="#666" stroke-width="1.2"/>
<path d="M481.2,610.7 L485.0,593.3 L487.3,604.6 L494.7,593.3 L491.1,610.7" fill="none" stroke="#000" stroke-width="1.7" stroke-linejoin="miter" stroke-miterlimit="2" stroke-linecap="butt"/>
<path d="M499.1,594.4 H503.3 V614.9 H499.1" fill="none" stroke="#666" stroke-width="1.2"/>
<g fill="none" stroke="#000" stroke-linecap="round" stroke-linejoin="round">
<path d="M24.6,351.5 C20.5,345.5 11,340.5 4.6,337.6" stroke-width="1.3"/>
<path d="M4.6,337.4 Q13.7,335.6 23.4,337.4" stroke-width="2.0"/>
<path d="M23.4,337.4 L4.6,320.3" stroke-width="1.5"/>
<path d="M4.6,320.3 C10,322.4 18,325.8 23.8,324.8" stroke-width="1.3"/>
<path d="M3.1,285.6 Q16.2,295.2 29.5,285.6" stroke-width="1.15" stroke="#111"/>
<path d="M3.1,252.4 Q16.2,242.2 29.5,252.4" stroke-width="1.15" stroke="#111"/>
</g>
<text transform="translate(23.2,277.9) rotate(-90)" font-size="33" font-style="italic" stroke="none">h</text>
</g>
</svg>
</body></html>
